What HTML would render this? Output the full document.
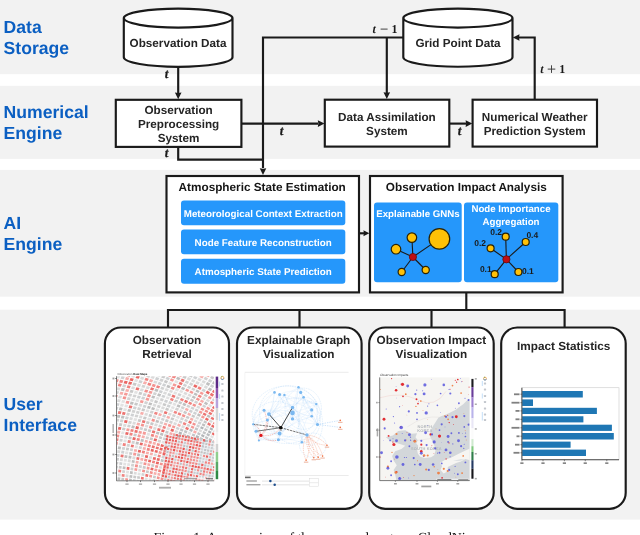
<!DOCTYPE html>
<html><head><meta charset="utf-8"><title>CloudNine overview</title>
<style>
html,body{margin:0;padding:0;background:#fff;}
body{width:640px;height:535px;overflow:hidden;font-family:"Liberation Sans",sans-serif;}
svg{display:block;font-family:"Liberation Sans",sans-serif;text-rendering:geometricPrecision;will-change:transform;opacity:0.999;}
</style></head><body>
<svg width="640" height="535" viewBox="0 0 640 535">
<rect x="0" y="0" width="640" height="535" fill="#ffffff"/>
<rect x="0" y="0" width="640" height="74.2" fill="#f2f2f2"/>
<rect x="0" y="85.8" width="640" height="73.1" fill="#f2f2f2"/>
<rect x="0" y="169.9" width="640" height="126.8" fill="#f2f2f2"/>
<rect x="0" y="309.7" width="640" height="209.9" fill="#f2f2f2"/>
<text x="3.6" y="32.8" font-size="17.6" font-weight="bold" fill="#0b5fc2">Data</text>
<text x="3.6" y="54.1" font-size="17.6" font-weight="bold" fill="#0b5fc2">Storage</text>
<text x="3.6" y="118.3" font-size="17.6" font-weight="bold" fill="#0b5fc2">Numerical</text>
<text x="3.6" y="139.2" font-size="17.6" font-weight="bold" fill="#0b5fc2">Engine</text>
<text x="3.6" y="228.8" font-size="17.6" font-weight="bold" fill="#0b5fc2">AI</text>
<text x="3.6" y="250.2" font-size="17.6" font-weight="bold" fill="#0b5fc2">Engine</text>
<text x="3.6" y="409.9" font-size="17.6" font-weight="bold" fill="#0b5fc2">User</text>
<text x="3.6" y="431.3" font-size="17.6" font-weight="bold" fill="#0b5fc2">Interface</text>
<path d="M178.2 66 L178.2 93" fill="none" stroke="#1a1a1a" stroke-width="2.15" stroke-linejoin="miter"/>
<polygon points="178.20,99.20 174.90,92.50 178.20,93.00 181.50,92.50" fill="#1a1a1a"/>
<path d="M241 123.6 L318 123.6" fill="none" stroke="#1a1a1a" stroke-width="2.15" stroke-linejoin="miter"/>
<polygon points="324.50,123.60 317.80,120.30 318.30,123.60 317.80,126.90" fill="#1a1a1a"/>
<path d="M178.2 147 L178.2 159.6 L263 159.6" fill="none" stroke="#1a1a1a" stroke-width="2.15" stroke-linejoin="miter"/>
<path d="M403 37.5 L263 37.5 L263 168" fill="none" stroke="#1a1a1a" stroke-width="2.15" stroke-linejoin="miter"/>
<polygon points="263.00,175.00 259.70,168.30 263.00,168.80 266.30,168.30" fill="#1a1a1a"/>
<path d="M386.8 37.5 L386.8 93" fill="none" stroke="#1a1a1a" stroke-width="2.15" stroke-linejoin="miter"/>
<polygon points="386.80,99.00 383.50,92.30 386.80,92.80 390.10,92.30" fill="#1a1a1a"/>
<path d="M449.5 123.6 L466 123.6" fill="none" stroke="#1a1a1a" stroke-width="2.15" stroke-linejoin="miter"/>
<polygon points="472.30,123.60 465.60,120.30 466.10,123.60 465.60,126.90" fill="#1a1a1a"/>
<path d="M534.7 99.5 L534.7 37.5 L519 37.5" fill="none" stroke="#1a1a1a" stroke-width="2.15" stroke-linejoin="miter"/>
<polygon points="512.80,37.50 519.50,34.20 519.00,37.50 519.50,40.80" fill="#1a1a1a"/>
<path d="M359 233.3 L364 233.3" fill="none" stroke="#1a1a1a" stroke-width="2.15" stroke-linejoin="miter"/>
<polygon points="369.40,233.30 363.40,230.30 363.90,233.30 363.40,236.30" fill="#1a1a1a"/>
<path d="M466.3 292 L466.3 310" fill="none" stroke="#1a1a1a" stroke-width="2.15" stroke-linejoin="miter"/>
<path d="M168 327 L168 310 L564.6 310 L564.6 327" fill="none" stroke="#1a1a1a" stroke-width="2.15" stroke-linejoin="miter"/>
<path d="M299.5 310 L299.5 327" fill="none" stroke="#1a1a1a" stroke-width="2.15" stroke-linejoin="miter"/>
<path d="M431.5 310 L431.5 327" fill="none" stroke="#1a1a1a" stroke-width="2.15" stroke-linejoin="miter"/>
<path d="M123.8 18.1 L123.8 57.3 A54.35 9.5 0 0 0 232.5 57.3 L232.5 18.1 A54.35 9.5 0 0 0 123.8 18.1 A54.35 9.5 0 0 0 232.5 18.1" fill="#fff" stroke="#1a1a1a" stroke-width="2.15"/>
<text x="178" y="47.1" font-size="11.7" font-weight="bold" fill="#252525" text-anchor="middle">Observation Data</text>
<path d="M403.3 18.1 L403.3 57.3 A54.599999999999994 9.5 0 0 0 512.5 57.3 L512.5 18.1 A54.599999999999994 9.5 0 0 0 403.3 18.1 A54.599999999999994 9.5 0 0 0 512.5 18.1" fill="#fff" stroke="#1a1a1a" stroke-width="2.15"/>
<text x="458" y="47.1" font-size="11.7" font-weight="bold" fill="#252525" text-anchor="middle">Grid Point Data</text>
<rect x="115.8" y="99.8" width="125.60" height="47.10" rx="0" fill="#fff" stroke="#1a1a1a" stroke-width="2.15"/>
<text x="178.6" y="113.5" font-size="11.7" font-weight="bold" fill="#252525" text-anchor="middle">Observation</text>
<text x="178.6" y="127.6" font-size="11.7" font-weight="bold" fill="#252525" text-anchor="middle">Preprocessing</text>
<text x="178.6" y="141.7" font-size="11.7" font-weight="bold" fill="#252525" text-anchor="middle">System</text>
<rect x="324.8" y="99.7" width="124.50" height="46.90" rx="0" fill="#fff" stroke="#1a1a1a" stroke-width="2.15"/>
<text x="386.9" y="120.5" font-size="11.7" font-weight="bold" fill="#252525" text-anchor="middle">Data Assimilation</text>
<text x="386.9" y="135.2" font-size="11.7" font-weight="bold" fill="#252525" text-anchor="middle">System</text>
<rect x="472.6" y="99.7" width="124.40" height="46.90" rx="0" fill="#fff" stroke="#1a1a1a" stroke-width="2.15"/>
<text x="534.7" y="120.5" font-size="11.7" font-weight="bold" fill="#252525" text-anchor="middle">Numerical Weather</text>
<text x="534.7" y="135.2" font-size="11.7" font-weight="bold" fill="#252525" text-anchor="middle">Prediction System</text>
<text x="166.6" y="78" font-family="Liberation Serif, serif" font-style="italic" font-weight="bold" font-size="13.2" fill="#1a1a1a" stroke="#1a1a1a" stroke-width="0.25" text-anchor="middle">t</text>
<text x="166.6" y="157.4" font-family="Liberation Serif, serif" font-style="italic" font-weight="bold" font-size="13.2" fill="#1a1a1a" stroke="#1a1a1a" stroke-width="0.25" text-anchor="middle">t</text>
<text x="281.5" y="135.4" font-family="Liberation Serif, serif" font-style="italic" font-weight="bold" font-size="13.2" fill="#1a1a1a" stroke="#1a1a1a" stroke-width="0.25" text-anchor="middle">t</text>
<text x="459.6" y="135.4" font-family="Liberation Serif, serif" font-style="italic" font-weight="bold" font-size="13.2" fill="#1a1a1a" stroke="#1a1a1a" stroke-width="0.25" text-anchor="middle">t</text>
<text x="372.6" y="32.7" font-family="Liberation Serif, serif" font-style="italic" font-weight="bold" font-size="12.0" fill="#1a1a1a">t</text>
<path d="M380.6 29.1H387.6" stroke="#3a3a3a" stroke-width="0.95" fill="none"/>
<text x="391.6" y="32.7" font-family="Liberation Serif, serif" font-weight="bold" font-size="12.0" fill="#1a1a1a">1</text>
<text x="540.2" y="73" font-family="Liberation Serif, serif" font-style="italic" font-weight="bold" font-size="12.0" fill="#1a1a1a">t</text>
<path d="M547.7 69.1H555.3M551.5 65.30000000000004V72.89999999999995" stroke="#3a3a3a" stroke-width="0.95" fill="none"/>
<text x="559.2" y="73" font-family="Liberation Serif, serif" font-weight="bold" font-size="12.0" fill="#1a1a1a">1</text>
<rect x="166.5" y="176.0" width="192.50" height="116.40" rx="0" fill="#fff" stroke="#1a1a1a" stroke-width="2.15"/>
<text x="262.2" y="191.4" font-size="11.75" font-weight="bold" fill="#151515" text-anchor="middle">Atmospheric State Estimation</text>
<rect x="181" y="200.5" width="164.3" height="24.8" rx="3" fill="#2597fb"/>
<text x="263.2" y="217.20000000000002" font-size="9.8" font-weight="bold" fill="#fff" text-anchor="middle">Meteorological Context Extraction</text>
<rect x="181" y="229.4" width="164.3" height="24.8" rx="3" fill="#2597fb"/>
<text x="263.2" y="245.70000000000002" font-size="9.8" font-weight="bold" fill="#fff" text-anchor="middle">Node Feature Reconstruction</text>
<rect x="181" y="258.7" width="164.3" height="25.0" rx="3" fill="#2597fb"/>
<text x="263.2" y="274.7" font-size="9.8" font-weight="bold" fill="#fff" text-anchor="middle">Atmospheric State Prediction</text>
<rect x="370" y="176.0" width="192.60" height="116.40" rx="0" fill="#fff" stroke="#1a1a1a" stroke-width="2.15"/>
<text x="466.3" y="191.4" font-size="11.75" font-weight="bold" fill="#151515" text-anchor="middle">Observation Impact Analysis</text>
<rect x="374" y="202.4" width="87.7" height="79.8" rx="3" fill="#2597fb"/>
<rect x="464" y="202.4" width="94.3" height="79.8" rx="3" fill="#2597fb"/>
<text x="418" y="217" font-size="9.7" font-weight="bold" fill="#fff" text-anchor="middle">Explainable GNNs</text>
<text x="511" y="212.0" font-size="9.7" font-weight="bold" fill="#fff" text-anchor="middle">Node Importance</text>
<text x="511" y="224.6" font-size="9.7" font-weight="bold" fill="#fff" text-anchor="middle">Aggregation</text>
<line x1="412.9" y1="257" x2="439.4" y2="238.9" stroke="#1a1a1a" stroke-width="1.1"/>
<line x1="412.9" y1="257" x2="411.9" y2="237.6" stroke="#1a1a1a" stroke-width="1.1"/>
<line x1="412.9" y1="257" x2="396" y2="249.2" stroke="#1a1a1a" stroke-width="1.1"/>
<line x1="412.9" y1="257" x2="401.7" y2="272" stroke="#1a1a1a" stroke-width="1.1"/>
<line x1="412.9" y1="257" x2="425.7" y2="270" stroke="#1a1a1a" stroke-width="1.1"/>
<circle cx="439.4" cy="238.9" r="10.3" fill="#ffc107" stroke="#2a2205" stroke-width="1.2"/>
<circle cx="411.9" cy="237.6" r="4.8" fill="#ffc107" stroke="#2a2205" stroke-width="1.2"/>
<circle cx="396" cy="249.2" r="4.8" fill="#ffc107" stroke="#2a2205" stroke-width="1.2"/>
<circle cx="401.7" cy="272" r="3.6" fill="#ffc107" stroke="#2a2205" stroke-width="1.2"/>
<circle cx="425.7" cy="270" r="3.6" fill="#ffc107" stroke="#2a2205" stroke-width="1.2"/>
<circle cx="412.9" cy="257" r="3.6" fill="#c00e14" stroke="#6a0a0d" stroke-width="0.8"/>
<line x1="506.4" y1="259.3" x2="505.7" y2="236.7" stroke="#1a1a1a" stroke-width="1.1"/>
<line x1="506.4" y1="259.3" x2="525.7" y2="242" stroke="#1a1a1a" stroke-width="1.1"/>
<line x1="506.4" y1="259.3" x2="490.6" y2="248.3" stroke="#1a1a1a" stroke-width="1.1"/>
<line x1="506.4" y1="259.3" x2="494.7" y2="274.2" stroke="#1a1a1a" stroke-width="1.1"/>
<line x1="506.4" y1="259.3" x2="518.4" y2="272" stroke="#1a1a1a" stroke-width="1.1"/>
<circle cx="505.7" cy="236.7" r="3.5" fill="#ffc107" stroke="#2a2205" stroke-width="1.2"/>
<circle cx="525.7" cy="242" r="3.5" fill="#ffc107" stroke="#2a2205" stroke-width="1.2"/>
<circle cx="490.6" cy="248.3" r="3.5" fill="#ffc107" stroke="#2a2205" stroke-width="1.2"/>
<circle cx="494.7" cy="274.2" r="3.5" fill="#ffc107" stroke="#2a2205" stroke-width="1.2"/>
<circle cx="518.4" cy="272" r="3.5" fill="#ffc107" stroke="#2a2205" stroke-width="1.2"/>
<circle cx="506.4" cy="259.3" r="3.6" fill="#c00e14" stroke="#6a0a0d" stroke-width="0.8"/>
<text x="496.1" y="234.5" font-size="8.5" font-weight="bold" fill="#1a1a1a" text-anchor="middle">0.2</text>
<text x="532.3" y="237.5" font-size="8.5" font-weight="bold" fill="#1a1a1a" text-anchor="middle">0.4</text>
<text x="480.2" y="245.5" font-size="8.5" font-weight="bold" fill="#1a1a1a" text-anchor="middle">0.2</text>
<text x="485.8" y="272.3" font-size="8.5" font-weight="bold" fill="#1a1a1a" text-anchor="middle">0.1</text>
<text x="527.9" y="274" font-size="8.5" font-weight="bold" fill="#1a1a1a" text-anchor="middle">0.1</text>
<rect x="104.9" y="327.5" width="124.10" height="181.30" rx="16" fill="#fff" stroke="#1a1a1a" stroke-width="2.15"/>
<rect x="237" y="327.5" width="124.60" height="181.30" rx="16" fill="#fff" stroke="#1a1a1a" stroke-width="2.15"/>
<rect x="369.2" y="327.5" width="124.50" height="181.30" rx="16" fill="#fff" stroke="#1a1a1a" stroke-width="2.15"/>
<rect x="501.2" y="327.5" width="124.50" height="181.30" rx="16" fill="#fff" stroke="#1a1a1a" stroke-width="2.15"/>
<text x="167" y="343.7" font-size="11.75" font-weight="bold" fill="#252525" text-anchor="middle">Observation</text>
<text x="167" y="357.9" font-size="11.75" font-weight="bold" fill="#252525" text-anchor="middle">Retrieval</text>
<text x="298.7" y="343.7" font-size="11.75" font-weight="bold" fill="#252525" text-anchor="middle">Explainable Graph</text>
<text x="298.7" y="357.9" font-size="11.75" font-weight="bold" fill="#252525" text-anchor="middle">Visualization</text>
<text x="431.4" y="343.7" font-size="11.75" font-weight="bold" fill="#252525" text-anchor="middle">Observation Impact</text>
<text x="431.4" y="357.9" font-size="11.75" font-weight="bold" fill="#252525" text-anchor="middle">Visualization</text>
<text x="563.7" y="350.4" font-size="11.75" font-weight="bold" fill="#252525" text-anchor="middle">Impact Statistics</text>
<g id="t1">
<clipPath id="c1"><rect x="116.8" y="376.2" width="97.4" height="104.3"/></clipPath>
<rect x="116.8" y="376.2" width="97.4" height="104.3" fill="#fcfcfc"/>
<g clip-path="url(#c1)">
<polygon points="165.0,433.0 215.2,441.4 215.2,481.5 162.6,481.5" fill="#f1f3f6"/>
<path d="M112.2 377.3L114.9 377.7L115.9 375.1L113.2 374.6ZM120.7 390.6L123.9 391.2L124.9 388.6L121.7 388.0ZM116.6 417.5L119.6 418.0L120.4 415.3L117.4 414.8ZM118.8 410.0L121.8 410.5L122.7 407.9L119.6 407.3ZM113.0 452.3L115.9 452.7L116.4 450.0L113.5 449.6ZM120.8 418.2L123.8 418.7L124.6 416.1L121.6 415.5ZM113.3 483.5L116.0 483.7L116.2 481.0L113.5 480.8ZM113.6 479.7L116.3 479.9L116.6 477.2L113.8 476.9ZM114.8 468.1L117.5 468.4L117.9 465.7L115.1 465.4ZM117.7 449.0L120.6 449.4L121.1 446.7L118.3 446.3ZM127.3 411.5L130.3 412.1L131.2 409.5L128.2 408.9ZM129.8 404.2L132.9 404.8L133.8 402.3L130.7 401.6ZM117.4 480.0L120.1 480.3L120.4 477.6L117.7 477.3ZM122.6 469.0L125.3 469.3L125.7 466.7L122.9 466.3ZM124.3 457.7L127.1 458.1L127.6 455.4L124.8 455.0ZM131.2 427.9L134.1 428.5L134.9 425.9L132.0 425.3ZM128.3 458.3L131.1 458.7L131.6 456.1L128.8 455.6ZM128.9 481.3L131.6 481.6L131.9 479.0L129.2 478.6ZM129.3 477.5L132.1 477.9L132.4 475.3L129.7 474.9ZM129.8 473.8L132.6 474.2L132.9 471.5L130.2 471.1ZM131.6 462.6L134.4 463.1L134.8 460.5L132.0 460.0ZM135.5 444.2L138.3 444.7L139.0 442.2L136.1 441.6ZM146.9 408.3L149.9 409.1L150.9 406.6L147.9 405.8ZM148.3 404.8L151.3 405.6L152.3 403.2L149.3 402.3ZM151.2 397.8L154.2 398.7L155.3 396.3L152.3 395.4ZM154.3 391.0L157.4 391.9L158.5 389.5L155.5 388.6ZM136.9 455.9L139.7 456.5L140.3 453.9L137.5 453.3ZM140.4 441.4L143.3 442.0L144.0 439.5L141.1 438.8ZM151.1 409.5L154.1 410.3L155.1 407.9L152.1 407.0ZM157.0 395.7L160.1 396.7L161.2 394.3L158.2 393.3ZM166.3 387.2L169.4 388.3L170.6 386.0L167.5 384.8ZM173.6 374.1L176.7 375.3L178.1 372.9L175.0 371.7ZM140.3 482.9L143.0 483.4L143.4 480.8L140.7 480.3ZM155.4 422.3L158.3 423.1L159.2 420.7L156.3 419.8ZM176.0 379.1L179.1 380.3L180.5 378.0L177.4 376.7ZM155.8 433.8L158.6 434.7L159.5 432.2L156.6 431.4ZM159.8 435.0L162.7 435.9L163.5 433.5L160.7 432.6ZM180.9 388.9L183.9 390.2L185.2 388.0L182.2 386.7ZM188.7 376.2L191.7 377.5L193.2 375.2L190.1 373.8ZM176.5 406.5L179.5 407.7L180.6 405.4L177.7 404.2ZM160.5 461.4L163.2 462.2L163.9 459.7L161.1 458.9ZM182.3 405.0L185.2 406.3L186.4 404.1L183.5 402.8ZM191.7 397.6L194.6 399.0L195.9 396.9L193.0 395.5ZM193.5 394.6L196.4 396.0L197.8 393.9L194.8 392.5ZM195.4 391.6L198.3 393.0L199.7 391.0L196.7 389.5ZM205.7 384.3L208.7 385.9L210.2 383.6L207.2 382.1ZM212.1 374.8L215.1 376.4L216.6 374.2L213.6 372.5ZM207.7 389.7L210.7 391.3L212.2 389.1L209.3 387.4ZM212.0 383.4L215.0 385.0L216.6 382.8L213.6 381.1ZM196.9 415.4L199.8 416.8L201.0 414.7L198.1 413.3ZM203.9 403.7L206.8 405.2L208.1 403.2L205.3 401.6ZM201.6 425.3L204.4 426.7L205.5 424.6L202.7 423.2ZM206.6 416.5L209.4 418.0L210.6 416.0L207.8 414.5Z" fill="#bfbfbf"/>
<path d="M111.9 389.2L115.1 389.6L116.0 387.0L112.9 386.5ZM113.2 385.4L116.4 385.9L117.4 383.3L114.2 382.7ZM114.6 381.7L117.8 382.2L118.8 379.6L115.6 379.0ZM122.5 398.8L125.5 399.4L126.5 396.8L123.4 396.2ZM116.0 437.1L118.9 437.5L119.5 434.8L116.6 434.4ZM144.1 391.9L147.2 392.8L148.3 390.3L145.2 389.5ZM146.9 396.6L150.0 397.5L151.0 395.0L148.0 394.1ZM151.6 386.2L154.7 387.2L155.9 384.8L152.8 383.8ZM140.6 426.0L143.5 426.7L144.3 424.2L141.4 423.5ZM134.8 467.0L137.6 467.4L138.1 464.8L135.3 464.3ZM151.3 421.1L154.2 421.9L155.1 419.5L152.2 418.6ZM142.0 472.0L144.7 472.5L145.2 470.0L142.4 469.4ZM143.3 464.8L146.1 465.3L146.6 462.8L143.8 462.2ZM144.0 461.1L146.8 461.7L147.4 459.2L144.6 458.6ZM170.6 388.7L173.6 389.9L174.9 387.6L171.8 386.4ZM149.7 473.6L152.4 474.2L152.9 471.7L150.1 471.0ZM156.5 445.4L159.3 446.2L160.1 443.7L157.2 442.9ZM154.9 467.4L157.7 468.0L158.3 465.6L155.5 464.9ZM156.7 478.8L159.3 479.5L159.8 477.0L157.1 476.3ZM159.6 464.9L162.4 465.6L163.0 463.2L160.2 462.4ZM160.4 479.7L163.1 480.4L163.6 478.0L160.9 477.3ZM161.9 472.8L164.6 473.5L165.1 471.1L162.4 470.4ZM181.6 416.2L184.5 417.4L185.6 415.2L182.7 414.0ZM192.2 405.6L195.1 406.9L196.4 404.8L193.5 403.4ZM195.8 399.6L198.7 401.0L200.0 398.9L197.1 397.4ZM198.1 404.5L201.0 406.0L202.2 403.9L199.4 402.4ZM192.1 424.5L194.9 425.8L196.0 423.7L193.2 422.4ZM200.3 409.5L203.2 411.0L204.5 408.9L201.6 407.4ZM204.4 411.6L207.2 413.1L208.4 411.0L205.6 409.5Z" fill="#f3928f"/>
<path d="M116.1 377.9L119.2 378.5L120.3 375.9L117.1 375.3ZM114.6 425.1L117.5 425.5L118.2 422.8L115.3 422.4ZM120.0 406.3L123.0 406.8L123.9 404.2L120.8 403.6ZM121.2 402.5L124.3 403.1L125.2 400.5L122.1 399.9ZM123.1 410.7L126.1 411.3L127.0 408.7L123.9 408.1ZM124.3 407.0L127.3 407.6L128.2 405.0L125.1 404.4ZM134.0 381.6L137.1 382.3L138.2 379.8L135.1 379.0ZM137.1 374.4L140.3 375.2L141.5 372.8L138.3 371.9ZM118.5 445.2L121.3 445.6L121.9 442.9L119.0 442.5ZM121.0 433.9L123.9 434.3L124.6 431.7L121.7 431.2ZM133.9 393.3L137.0 394.0L138.0 391.5L134.9 390.8ZM141.6 375.6L144.8 376.4L146.0 374.0L142.8 373.1ZM123.3 442.0L126.2 442.5L126.8 439.8L123.9 439.4ZM135.4 401.5L138.5 402.2L139.5 399.7L136.4 399.0ZM123.1 465.2L125.9 465.6L126.3 462.9L123.5 462.5ZM123.7 461.4L126.5 461.8L127.0 459.2L124.1 458.7ZM125.0 453.9L127.9 454.3L128.4 451.7L125.5 451.2ZM133.4 420.6L136.4 421.2L137.2 418.6L134.2 418.0ZM126.0 473.2L128.7 473.6L129.1 471.0L126.3 470.6ZM127.0 465.7L129.8 466.1L130.2 463.5L127.5 463.1ZM156.7 376.1L159.8 377.1L161.1 374.7L158.0 373.7ZM134.6 447.8L137.4 448.4L138.1 445.8L135.2 445.2ZM145.5 411.8L148.5 412.6L149.5 410.1L146.5 409.3ZM147.1 420.0L150.1 420.7L151.0 418.3L148.0 417.4ZM155.5 399.1L158.5 400.1L159.6 397.7L156.6 396.7ZM137.5 475.0L140.3 475.4L140.7 472.9L137.9 472.4ZM146.5 435.2L149.4 435.9L150.2 433.4L147.3 432.6ZM155.3 410.7L158.3 411.6L159.3 409.2L156.3 408.3ZM158.2 403.9L161.2 404.8L162.3 402.5L159.3 401.5ZM168.1 383.9L171.1 385.0L172.4 382.7L169.3 381.6ZM165.6 398.6L168.6 399.6L169.7 397.3L166.7 396.2ZM174.2 382.3L177.2 383.5L178.6 381.3L175.5 380.0ZM144.6 480.0L147.3 480.5L147.8 477.9L145.0 477.4ZM173.1 393.6L176.1 394.8L177.4 392.5L174.4 391.3ZM174.9 390.4L177.9 391.6L179.2 389.3L176.1 388.1ZM148.5 480.7L151.1 481.3L151.6 478.7L148.9 478.2ZM169.3 411.5L172.2 412.5L173.3 410.2L170.3 409.1ZM170.8 408.2L173.7 409.3L174.9 407.0L171.9 405.9ZM172.4 404.9L175.3 406.0L176.5 403.8L173.5 402.6ZM179.1 392.1L182.1 393.3L183.4 391.1L180.4 389.8ZM161.5 443.1L164.3 443.9L165.2 441.5L162.3 440.6ZM166.3 429.5L169.2 430.5L170.1 428.1L167.3 427.1ZM181.6 397.0L184.5 398.3L185.8 396.1L182.8 394.8ZM195.0 374.9L198.1 376.3L199.6 374.0L196.5 372.5ZM174.5 421.0L177.4 422.1L178.4 419.9L175.5 418.7ZM176.0 417.8L178.9 418.9L179.9 416.6L177.0 415.5ZM179.1 411.4L182.0 412.5L183.1 410.3L180.2 409.1ZM159.8 483.2L162.5 483.9L162.9 481.4L160.3 480.7ZM199.4 385.4L202.4 386.9L203.9 384.6L200.9 383.1ZM187.7 433.8L190.5 435.0L191.5 432.8L188.7 431.6ZM208.0 405.8L210.8 407.4L212.1 405.4L209.3 403.8ZM213.8 405.2L216.6 406.9L218.0 404.9L215.2 403.3ZM214.4 420.9L217.2 422.4L218.4 420.5L215.7 418.9ZM210.1 437.1L212.8 438.6L213.9 436.6L211.2 435.1ZM214.9 428.6L217.6 430.2L218.8 428.3L216.1 426.7Z" fill="#e2e2e2"/>
<path d="M117.5 374.2L120.7 374.8L121.8 372.2L118.6 371.6ZM123.8 395.1L126.9 395.7L127.9 393.2L124.7 392.5ZM125.5 403.3L128.6 403.9L129.5 401.3L126.4 400.7ZM126.1 430.8L129.0 431.3L129.7 428.7L126.8 428.2ZM139.7 402.5L142.8 403.3L143.8 400.8L140.7 400.0ZM125.1 480.8L127.8 481.1L128.1 478.4L125.4 478.1ZM145.4 400.1L148.5 400.9L149.5 398.5L146.5 397.6ZM148.4 393.1L151.5 394.0L152.6 391.6L149.5 390.7ZM133.0 455.2L135.8 455.7L136.4 453.1L133.5 452.6ZM137.4 436.9L140.2 437.5L141.0 434.9L138.1 434.3ZM138.4 433.2L141.3 433.9L142.0 431.4L139.1 430.7ZM134.2 470.6L137.0 471.1L137.4 468.5L134.7 468.0ZM142.5 434.2L145.4 434.9L146.1 432.3L143.2 431.6ZM148.8 428.1L151.7 428.9L152.6 426.4L149.6 425.6ZM169.8 380.6L172.9 381.8L174.2 379.5L171.1 378.3ZM148.5 443.3L151.3 444.0L152.1 441.5L149.2 440.7ZM172.4 385.5L175.4 386.7L176.7 384.4L173.6 383.2ZM178.0 375.8L181.1 377.0L182.5 374.7L179.4 373.4ZM146.5 469.2L149.2 469.7L149.7 467.2L147.0 466.6ZM149.0 477.1L151.7 477.7L152.2 475.2L149.5 474.6ZM154.2 470.9L156.9 471.5L157.5 469.1L154.7 468.4ZM158.4 453.4L161.2 454.2L161.9 451.8L159.1 450.9ZM167.7 426.2L170.5 427.2L171.5 424.8L168.6 423.8ZM185.1 390.8L188.1 392.1L189.4 389.9L186.5 388.6ZM171.7 427.6L174.6 428.6L175.5 426.3L172.7 425.2ZM189.3 392.6L192.3 394.0L193.6 391.9L190.7 390.5ZM205.7 375.8L208.7 377.3L210.2 375.1L207.2 373.5ZM199.5 393.6L202.4 395.1L203.8 393.1L200.9 391.6ZM214.2 380.2L217.2 381.9L218.7 379.6L215.7 378.0ZM190.6 427.6L193.4 428.9L194.5 426.7L191.7 425.4ZM198.6 412.5L201.5 413.9L202.7 411.8L199.8 410.4ZM207.7 397.9L210.6 399.5L211.9 397.5L209.1 395.9ZM200.9 417.4L203.7 418.8L204.9 416.8L202.1 415.3ZM206.1 408.7L209.0 410.2L210.3 408.2L207.4 406.6Z" fill="#f59a97"/>
<path d="M112.5 401.1L115.6 401.6L116.5 398.9L113.4 398.4ZM120.6 378.7L123.7 379.3L124.8 376.8L121.6 376.1ZM122.0 375.1L125.3 375.7L126.4 373.1L123.1 372.5ZM114.5 409.3L117.6 409.8L118.4 407.1L115.3 406.6ZM115.7 405.5L118.7 406.0L119.6 403.4L116.5 402.9ZM119.8 421.9L122.7 422.4L123.5 419.8L120.5 419.3ZM113.9 475.8L116.7 476.1L116.9 473.3L114.2 473.1ZM116.4 456.6L119.2 457.0L119.7 454.3L116.9 453.9ZM125.0 418.9L128.0 419.5L128.8 416.9L125.8 416.3ZM138.4 382.6L141.5 383.4L142.7 380.9L139.5 380.1ZM117.1 483.8L119.8 484.1L120.0 481.4L117.3 481.1ZM119.2 464.7L122.0 465.1L122.4 462.4L119.6 462.0ZM121.0 453.3L123.9 453.7L124.4 451.1L121.5 450.6ZM121.8 449.6L124.6 450.0L125.2 447.3L122.3 446.9ZM127.1 427.1L130.0 427.6L130.8 425.0L127.8 424.5ZM130.4 416.0L133.4 416.7L134.2 414.1L131.2 413.4ZM132.8 408.7L135.8 409.4L136.8 406.9L133.7 406.2ZM136.8 397.9L139.9 398.7L140.9 396.2L137.8 395.4ZM141.1 399.0L144.2 399.8L145.2 397.3L142.2 396.5ZM142.6 395.5L145.7 396.3L146.7 393.8L143.6 393.0ZM142.6 407.2L145.6 407.9L146.6 405.5L143.6 404.7ZM154.9 379.4L158.1 380.4L159.3 378.1L156.2 377.0ZM130.4 470.0L133.1 470.5L133.5 467.8L130.8 467.4ZM139.5 429.6L142.4 430.3L143.2 427.8L140.2 427.1ZM157.6 384.2L160.7 385.2L161.9 382.9L158.8 381.8ZM132.7 481.8L135.4 482.2L135.8 479.5L133.0 479.1ZM158.6 392.3L161.7 393.4L162.9 391.0L159.8 390.0ZM162.0 385.7L165.0 386.7L166.3 384.4L163.2 383.3ZM165.5 379.0L168.6 380.2L169.9 377.9L166.8 376.7ZM138.7 467.6L141.5 468.2L142.0 465.6L139.2 465.0ZM161.3 397.1L164.3 398.1L165.5 395.8L162.5 394.7ZM164.0 401.9L167.0 402.9L168.1 400.6L165.1 399.5ZM167.2 395.3L170.2 396.4L171.4 394.1L168.4 392.9ZM160.8 420.1L163.7 421.0L164.7 418.7L161.8 417.7ZM162.2 416.7L165.1 417.7L166.1 415.3L163.2 414.3ZM166.6 406.7L169.6 407.7L170.7 405.4L167.7 404.3ZM184.3 374.3L187.4 375.6L188.8 373.3L185.7 371.9ZM175.7 398.5L178.6 399.6L179.8 397.4L176.9 396.2ZM182.8 385.8L185.8 387.1L187.1 385.0L184.1 383.6ZM162.7 439.7L165.5 440.5L166.3 438.2L163.5 437.2ZM193.0 378.1L196.0 379.5L197.5 377.2L194.4 375.8ZM161.4 458.0L164.1 458.7L164.8 456.3L162.1 455.5ZM185.7 398.8L188.7 400.1L189.9 397.9L187.0 396.6ZM161.1 476.3L163.8 477.0L164.4 474.5L161.6 473.8ZM175.7 429.1L178.6 430.1L179.6 427.9L176.7 426.8ZM178.6 422.6L181.4 423.7L182.5 421.5L179.6 420.3ZM188.8 411.7L191.7 413.0L192.9 410.8L190.0 409.5ZM190.5 408.6L193.4 410.0L194.6 407.8L191.7 406.5ZM201.5 390.7L204.4 392.2L205.9 390.0L203.0 388.4ZM207.8 381.2L210.8 382.7L212.4 380.5L209.4 378.9ZM192.9 413.5L195.8 414.9L197.0 412.8L194.1 411.4ZM194.6 410.5L197.4 411.9L198.7 409.8L195.8 408.4ZM209.9 386.5L212.8 388.1L214.4 385.9L211.4 384.3ZM202.1 406.6L205.0 408.1L206.3 406.0L203.4 404.5ZM196.1 426.4L198.9 427.7L200.0 425.6L197.2 424.2ZM197.6 423.4L200.4 424.7L201.6 422.6L198.8 421.2Z" fill="#cfd1d3"/>
<path d="M113.8 397.4L116.9 397.8L117.8 395.2L114.6 394.7ZM117.7 386.1L120.8 386.7L121.9 384.1L118.7 383.5ZM119.1 382.4L122.3 383.0L123.3 380.4L120.1 379.8ZM126.6 387.8L129.7 388.5L130.7 385.9L127.6 385.2ZM114.4 444.7L117.3 445.0L117.9 442.3L115.0 442.0ZM115.2 440.9L118.1 441.2L118.7 438.6L115.8 438.2ZM118.2 472.3L121.0 472.6L121.3 469.9L118.5 469.6ZM122.5 445.8L125.4 446.2L126.0 443.6L123.1 443.1ZM144.4 380.3L147.6 381.1L148.8 378.7L145.6 377.8ZM121.6 476.6L124.4 476.9L124.7 474.2L121.9 473.9ZM127.4 442.7L130.3 443.2L130.9 440.6L128.0 440.0ZM129.2 435.3L132.1 435.8L132.8 433.2L129.9 432.6ZM130.2 431.6L133.1 432.1L133.8 429.5L130.9 428.9ZM147.2 385.0L150.3 385.9L151.5 383.4L148.4 382.5ZM136.4 440.5L139.3 441.1L140.0 438.6L137.1 437.9ZM155.9 387.6L159.0 388.6L160.2 386.2L157.1 385.2ZM141.7 453.1L144.5 453.7L145.1 451.1L142.3 450.5ZM153.9 414.1L156.9 415.0L157.8 412.6L154.9 411.7ZM171.7 377.4L174.8 378.6L176.2 376.2L173.1 375.0ZM146.6 450.4L149.4 451.0L150.0 448.5L147.2 447.8ZM147.5 446.8L150.3 447.5L151.0 445.0L148.2 444.3ZM150.6 436.2L153.5 437.0L154.3 434.5L151.4 433.7ZM169.8 400.1L172.8 401.2L173.9 398.9L171.0 397.8ZM147.9 484.3L150.6 484.8L151.0 482.3L148.3 481.8ZM151.9 462.9L154.6 463.6L155.2 461.1L152.4 460.4ZM162.3 428.2L165.2 429.1L166.1 426.7L163.2 425.8ZM157.5 456.9L160.3 457.6L160.9 455.2L158.1 454.4ZM173.4 413.0L176.3 414.1L177.4 411.8L174.5 410.7ZM179.8 400.1L182.8 401.4L184.0 399.2L181.1 397.9ZM156.0 482.3L158.7 483.0L159.2 480.5L156.5 479.8ZM158.0 471.8L160.8 472.5L161.3 470.1L158.6 469.3ZM177.5 414.6L180.4 415.7L181.5 413.5L178.6 412.3ZM163.5 465.9L166.2 466.7L166.8 464.3L164.1 463.5ZM188.1 403.7L191.0 405.0L192.3 402.9L189.4 401.5ZM197.3 388.6L200.3 390.1L201.8 387.8L198.8 386.3ZM182.6 424.2L185.4 425.4L186.5 423.2L183.7 422.0ZM197.6 396.6L200.6 398.0L201.9 396.0L199.0 394.5ZM209.8 403.0L212.7 404.6L214.0 402.6L211.2 401.0ZM210.1 410.8L212.9 412.4L214.2 410.4L211.4 408.8ZM212.7 423.7L215.4 425.2L216.6 423.3L213.9 421.7Z" fill="#f08380"/>
<path d="M115.0 393.6L118.1 394.1L119.1 391.5L115.9 390.9ZM112.4 416.9L115.4 417.3L116.1 414.6L113.1 414.2ZM113.4 413.1L116.4 413.5L117.2 410.9L114.2 410.4ZM122.1 386.9L125.3 387.5L126.3 385.0L123.1 384.3ZM112.8 432.7L115.7 433.1L116.3 430.4L113.4 430.0ZM115.6 421.3L118.5 421.7L119.3 419.1L116.3 418.6ZM126.8 399.7L129.9 400.3L130.8 397.7L127.8 397.1ZM128.1 396.0L131.2 396.7L132.2 394.1L129.1 393.4ZM114.3 472.0L117.1 472.2L117.4 469.5L114.6 469.2ZM119.3 441.4L122.2 441.8L122.8 439.2L119.9 438.7ZM126.2 415.2L129.1 415.8L130.0 413.2L127.0 412.6ZM132.5 396.9L135.6 397.6L136.6 395.1L133.5 394.4ZM128.1 423.4L131.1 424.0L131.9 421.4L128.9 420.8ZM131.6 412.4L134.6 413.0L135.5 410.5L132.4 409.8ZM141.3 387.3L144.4 388.1L145.5 385.6L142.4 384.8ZM122.1 472.8L124.8 473.1L125.2 470.4L122.4 470.1ZM126.6 446.4L129.4 446.9L130.0 444.3L127.1 443.8ZM134.6 416.9L137.6 417.6L138.4 415.0L135.4 414.4ZM135.8 413.3L138.8 414.0L139.7 411.5L136.7 410.7ZM137.1 409.7L140.1 410.4L141.0 407.9L138.0 407.1ZM129.8 450.8L132.6 451.3L133.2 448.7L130.3 448.2ZM131.4 443.4L134.3 443.9L134.9 441.3L132.1 440.8ZM144.0 403.6L147.0 404.4L148.1 402.0L145.0 401.1ZM130.9 466.3L133.7 466.8L134.2 464.1L131.4 463.7ZM152.7 394.4L155.8 395.3L156.9 392.9L153.9 392.0ZM159.3 380.9L162.4 381.9L163.7 379.6L160.6 378.5ZM162.9 374.2L166.0 375.3L167.4 372.9L164.2 371.8ZM138.6 448.6L141.4 449.2L142.1 446.7L139.2 446.0ZM149.7 412.9L152.7 413.8L153.7 411.3L150.7 410.5ZM160.3 389.0L163.3 390.0L164.5 387.7L161.5 386.6ZM145.5 438.7L148.3 439.4L149.1 436.9L146.2 436.2ZM156.7 407.3L159.7 408.2L160.8 405.8L157.8 404.8ZM159.7 400.5L162.7 401.5L163.9 399.1L160.8 398.1ZM141.4 475.6L144.1 476.1L144.5 473.6L141.8 473.1ZM158.2 426.9L161.1 427.8L162.0 425.4L159.1 424.5ZM159.5 423.5L162.4 424.4L163.3 422.0L160.4 421.1ZM168.2 403.4L171.2 404.5L172.3 402.2L169.3 401.0ZM157.5 441.9L160.4 442.7L161.2 440.3L158.3 439.4ZM177.4 395.3L180.3 396.5L181.6 394.2L178.6 393.0ZM184.7 382.7L187.7 384.0L189.1 381.7L186.1 380.4ZM152.3 481.5L154.9 482.1L155.4 479.6L152.7 479.0ZM163.8 436.3L166.7 437.2L167.6 434.8L164.7 433.9ZM169.0 422.8L171.9 423.9L172.9 421.5L170.0 420.5ZM171.9 416.3L174.8 417.3L175.9 415.0L172.9 413.9ZM174.9 409.7L177.9 410.9L179.0 408.6L176.1 407.4ZM187.0 387.7L190.0 389.0L191.3 386.9L188.3 385.5ZM188.9 384.6L191.9 386.0L193.4 383.7L190.4 382.3ZM180.7 408.2L183.6 409.4L184.8 407.2L181.8 405.9ZM191.2 389.6L194.2 391.0L195.5 388.9L192.6 387.5ZM180.0 419.4L182.9 420.6L184.0 418.3L181.1 417.1ZM186.4 406.8L189.3 408.1L190.5 405.9L187.6 404.6ZM203.6 379.0L206.6 380.5L208.1 378.3L205.1 376.7ZM184.1 421.0L186.9 422.3L188.0 420.1L185.2 418.8ZM194.0 402.6L196.9 404.0L198.2 401.8L195.3 400.4ZM182.3 435.4L185.1 436.5L186.1 434.3L183.3 433.1ZM186.6 425.9L189.4 427.1L190.5 424.9L187.7 423.7ZM199.3 420.4L202.1 421.8L203.2 419.7L200.4 418.3ZM211.7 400.2L214.6 401.8L216.0 399.9L213.1 398.2Z" fill="#d2d2d2"/>
<path d="M116.3 389.9L119.5 390.4L120.4 387.8L117.3 387.2ZM116.9 401.8L119.9 402.3L120.8 399.7L117.8 399.1ZM118.1 398.1L121.2 398.6L122.1 396.0L119.0 395.4ZM131.1 376.9L134.2 377.7L135.4 375.2L132.2 374.4ZM113.7 448.5L116.6 448.9L117.1 446.2L114.2 445.8ZM131.0 388.7L134.1 389.4L135.1 386.9L132.0 386.2ZM117.0 452.8L119.9 453.2L120.4 450.5L117.5 450.1ZM120.1 437.6L123.0 438.1L123.6 435.4L120.7 435.0ZM122.9 426.4L125.9 426.9L126.6 424.2L123.6 423.7ZM131.1 400.6L134.2 401.2L135.2 398.7L132.1 398.0ZM136.9 386.2L140.0 386.9L141.1 384.4L137.9 383.6ZM140.0 379.1L143.1 379.9L144.3 377.4L141.1 376.6ZM117.8 476.2L120.5 476.4L120.8 473.7L118.1 473.5ZM119.8 460.9L122.6 461.3L123.0 458.6L120.2 458.2ZM124.2 438.3L127.1 438.8L127.7 436.1L124.8 435.6ZM129.2 419.7L132.2 420.3L133.0 417.7L130.0 417.1ZM139.7 390.8L142.8 391.6L143.9 389.1L140.8 388.3ZM120.9 484.2L123.6 484.4L123.9 481.8L121.1 481.5ZM132.3 424.2L135.2 424.8L136.0 422.3L133.1 421.6ZM138.4 406.1L141.4 406.9L142.4 404.3L139.3 403.6ZM145.6 388.4L148.7 389.3L149.9 386.9L146.8 386.0ZM150.5 378.1L153.7 379.0L154.9 376.6L151.7 375.7ZM152.3 374.7L155.4 375.6L156.7 373.3L153.5 372.3ZM125.5 477.0L128.2 477.4L128.6 474.7L125.8 474.3ZM127.6 462.0L130.4 462.4L130.9 459.8L128.1 459.3ZM138.8 417.9L141.7 418.6L142.6 416.1L139.6 415.3ZM153.2 382.8L156.4 383.8L157.6 381.4L154.4 380.4ZM132.2 458.9L135.0 459.4L135.6 456.8L132.8 456.3ZM144.2 415.3L147.2 416.1L148.1 413.6L145.1 412.8ZM149.7 401.3L152.7 402.2L153.8 399.7L150.8 398.8ZM133.7 474.3L136.4 474.8L136.8 472.2L134.1 471.7ZM144.7 427.0L147.6 427.8L148.5 425.3L145.5 424.5ZM152.5 406.0L155.5 406.9L156.5 404.5L153.5 403.5ZM138.1 471.3L140.8 471.8L141.3 469.2L138.5 468.7ZM139.4 464.0L142.2 464.5L142.7 462.0L139.9 461.4ZM140.9 456.7L143.7 457.3L144.3 454.7L141.5 454.1ZM152.6 417.6L155.5 418.5L156.5 416.0L153.5 415.1ZM162.9 393.8L166.0 394.8L167.1 392.5L164.1 391.4ZM164.6 390.5L167.6 391.5L168.9 389.2L165.8 388.1ZM152.9 429.2L155.8 430.0L156.7 427.6L153.8 426.7ZM154.1 425.7L157.0 426.6L157.9 424.1L155.0 423.3ZM156.7 418.8L159.6 419.7L160.6 417.3L157.7 416.4ZM159.5 412.0L162.4 412.9L163.5 410.6L160.5 409.6ZM160.9 408.6L163.9 409.6L165.0 407.2L162.0 406.2ZM168.9 392.0L171.9 393.1L173.1 390.8L170.1 389.7ZM144.1 483.6L146.8 484.1L147.2 481.5L144.5 481.0ZM148.8 458.4L151.5 459.1L152.2 456.6L149.4 455.9ZM153.6 455.8L156.3 456.6L157.0 454.1L154.2 453.4ZM167.8 414.8L170.7 415.8L171.8 413.5L168.8 412.4ZM186.7 379.4L189.7 380.8L191.2 378.5L188.1 377.1ZM183.3 393.9L186.3 395.2L187.6 393.0L184.6 391.7ZM190.9 381.3L194.0 382.8L195.4 380.5L192.4 379.0ZM158.8 468.3L161.5 469.1L162.1 466.6L159.4 465.9ZM173.1 424.3L176.0 425.4L177.0 423.1L174.1 422.0ZM187.5 395.7L190.5 397.0L191.8 394.9L188.8 393.5ZM195.2 383.3L198.2 384.8L199.7 382.5L196.7 381.0ZM197.3 380.1L200.3 381.6L201.8 379.3L198.7 377.8ZM174.4 432.3L177.2 433.4L178.2 431.1L175.3 430.0ZM201.5 382.2L204.5 383.7L206.0 381.4L203.0 379.9ZM181.1 427.4L184.0 428.5L185.0 426.3L182.2 425.1ZM203.6 387.5L206.5 389.1L208.1 386.8L205.1 385.2ZM196.3 407.5L199.2 408.9L200.4 406.8L197.6 405.4ZM201.7 398.7L204.6 400.2L206.0 398.1L203.1 396.6ZM193.7 421.5L196.5 422.8L197.6 420.7L194.8 419.3ZM195.3 418.5L198.1 419.8L199.3 417.7L196.4 416.3ZM205.8 400.8L208.7 402.3L210.0 400.3L207.1 398.8ZM214.0 388.8L216.9 390.5L218.5 388.2L215.6 386.6ZM198.5 431.3L201.2 432.6L202.3 430.5L199.5 429.1ZM205.5 427.3L208.2 428.7L209.4 426.7L206.6 425.2ZM208.8 421.5L211.6 423.0L212.8 421.0L210.0 419.5ZM212.3 415.9L215.0 417.4L216.3 415.5L213.5 413.9Z" fill="#dbdbdb"/>
<path d="M119.4 394.3L122.5 394.9L123.5 392.3L120.4 391.7ZM125.0 379.6L128.2 380.3L129.3 377.7L126.1 377.0ZM125.1 391.5L128.3 392.1L129.3 389.5L126.1 388.9ZM116.9 433.3L119.8 433.7L120.5 431.0L117.5 430.6ZM142.8 383.8L145.9 384.6L147.1 382.1L144.0 381.3ZM148.9 381.5L152.0 382.4L153.2 380.0L150.0 379.1ZM136.4 425.1L139.4 425.8L140.2 423.2L137.2 422.5ZM140.0 414.3L143.0 415.0L143.9 412.5L140.9 411.7ZM133.8 451.5L136.6 452.0L137.2 449.5L134.3 448.9ZM135.5 463.3L138.3 463.8L138.8 461.2L136.0 460.7ZM141.4 437.8L144.3 438.4L145.0 435.9L142.2 435.2ZM140.1 460.3L142.9 460.9L143.5 458.3L140.7 457.8ZM142.6 449.5L145.4 450.1L146.1 447.6L143.2 446.9ZM143.5 445.9L146.3 446.5L147.0 444.0L144.2 443.3ZM144.5 442.3L147.3 443.0L148.0 440.5L145.2 439.7ZM145.7 454.0L148.5 454.6L149.1 452.1L146.3 451.4ZM158.1 415.4L161.0 416.3L162.0 413.9L159.1 413.0ZM147.2 465.6L149.9 466.2L150.5 463.7L147.7 463.0ZM149.6 454.9L152.4 455.6L153.1 453.1L150.3 452.4ZM152.5 444.3L155.3 445.0L156.1 442.6L153.2 441.8ZM154.6 437.3L157.5 438.1L158.3 435.7L155.4 434.8ZM163.6 424.8L166.5 425.8L167.4 423.4L164.5 422.4ZM166.3 418.1L169.2 419.1L170.3 416.8L167.3 415.7ZM153.5 474.4L156.2 475.1L156.7 472.6L154.0 471.9ZM157.3 475.3L160.0 476.0L160.5 473.5L157.8 472.8ZM169.1 434.2L171.9 435.2L172.8 432.9L170.0 431.9ZM199.3 376.9L202.4 378.4L203.9 376.1L200.8 374.6ZM162.6 469.4L165.4 470.1L166.0 467.7L163.2 466.9ZM177.1 425.8L180.0 426.9L181.0 424.7L178.1 423.5ZM184.8 409.9L187.7 411.2L188.8 409.0L185.9 407.7ZM187.2 414.8L190.1 416.1L191.2 413.9L188.4 412.6ZM189.7 419.7L192.5 420.9L193.6 418.8L190.8 417.5ZM199.9 401.6L202.8 403.1L204.1 401.0L201.2 399.5ZM193.0 432.5L195.8 433.7L196.9 431.6L194.1 430.3ZM212.3 442.0L215.0 443.5L216.1 441.5L213.4 440.0Z" fill="#f7aeab"/>
<path d="M123.6 383.3L126.7 383.9L127.8 381.3L124.6 380.7ZM126.6 376.0L129.8 376.7L130.9 374.1L127.7 373.4ZM128.0 384.2L131.2 384.8L132.2 382.3L129.1 381.6ZM129.5 380.5L132.7 381.2L133.8 378.7L130.6 378.0ZM117.8 429.5L120.7 429.9L121.4 427.3L118.5 426.8ZM135.5 378.0L138.7 378.8L139.9 376.3L136.7 375.5ZM123.9 422.6L126.9 423.2L127.7 420.5L124.7 420.0ZM125.1 434.5L128.0 435.0L128.7 432.4L125.8 431.9ZM132.3 439.7L135.2 440.3L135.9 437.7L133.0 437.1ZM135.3 428.7L138.3 429.4L139.0 426.8L136.1 426.1ZM137.7 452.3L140.6 452.8L141.2 450.3L138.3 449.7ZM139.5 445.0L142.3 445.6L143.0 443.1L140.2 442.4ZM167.3 375.8L170.4 376.9L171.8 374.5L168.7 373.4ZM144.8 457.5L147.6 458.2L148.2 455.6L145.4 455.0ZM148.0 462.0L150.7 462.6L151.3 460.1L148.5 459.5ZM150.5 451.3L153.3 452.0L154.0 449.6L151.2 448.8ZM153.5 440.8L156.4 441.6L157.2 439.1L154.3 438.3ZM176.7 387.2L179.7 388.4L181.0 386.2L177.9 384.9ZM150.3 470.0L153.1 470.6L153.6 468.1L150.9 467.5ZM152.7 459.4L155.5 460.1L156.1 457.6L153.3 456.9ZM154.5 452.3L157.3 453.1L158.0 450.6L155.2 449.9ZM161.0 431.6L163.9 432.5L164.8 430.1L161.9 429.2ZM155.7 463.9L158.5 464.6L159.1 462.1L156.3 461.4ZM156.6 460.4L159.3 461.1L160.0 458.6L157.2 457.9ZM159.4 449.9L162.2 450.8L162.9 448.3L160.1 447.5ZM160.4 446.5L163.3 447.3L164.0 444.9L161.2 444.1ZM164.4 447.7L167.2 448.6L168.0 446.2L165.2 445.3ZM170.4 430.9L173.2 431.9L174.2 429.6L171.3 428.5ZM193.1 386.6L196.1 388.0L197.6 385.7L194.6 384.3ZM205.6 392.8L208.5 394.4L210.0 392.2L207.1 390.6ZM213.7 397.4L216.6 399.0L218.1 396.8L215.3 395.1ZM204.9 419.4L207.7 420.9L208.9 418.9L206.1 417.4ZM211.9 408.0L214.8 409.6L216.1 407.7L213.3 406.0ZM211.0 426.5L213.7 428.0L214.9 426.0L212.2 424.5ZM211.6 434.3L214.3 435.8L215.5 433.8L212.8 432.3Z" fill="#ea6764"/>
<path d="M113.6 428.9L116.6 429.3L117.3 426.6L114.3 426.2ZM112.4 456.2L115.2 456.5L115.7 453.8L112.9 453.5ZM118.8 425.7L121.7 426.2L122.4 423.5L119.5 423.0ZM129.5 392.4L132.6 393.0L133.7 390.5L130.5 389.8ZM132.4 385.1L135.6 385.9L136.7 383.3L133.5 382.6ZM115.3 464.3L118.0 464.6L118.4 461.9L115.6 461.6ZM115.8 460.5L118.6 460.8L119.0 458.1L116.2 457.7ZM121.9 430.1L124.9 430.6L125.6 428.0L122.6 427.4ZM118.7 468.5L121.4 468.8L121.8 466.2L119.0 465.8ZM134.1 405.1L137.1 405.8L138.1 403.3L135.0 402.6ZM138.3 394.4L141.3 395.1L142.4 392.6L139.3 391.8ZM146.1 376.8L149.2 377.7L150.5 375.3L147.3 374.3ZM121.2 480.4L124.0 480.7L124.2 478.0L121.5 477.7ZM125.8 450.2L128.6 450.6L129.2 448.0L126.3 447.5ZM128.3 439.0L131.2 439.5L131.8 436.9L128.9 436.3ZM124.7 484.6L127.4 484.9L127.7 482.2L125.0 481.9ZM129.0 454.5L131.8 455.0L132.4 452.4L129.5 451.9ZM133.3 436.0L136.2 436.6L136.9 434.0L134.0 433.4ZM137.6 421.5L140.5 422.2L141.4 419.6L138.4 418.9ZM141.3 410.7L144.3 411.5L145.2 409.0L142.2 408.2ZM142.9 418.9L145.9 419.6L146.8 417.1L143.8 416.4ZM161.1 377.5L164.2 378.6L165.5 376.3L162.4 375.2ZM133.2 478.1L135.9 478.5L136.3 475.9L133.5 475.4ZM143.6 430.6L146.5 431.3L147.3 428.8L144.4 428.1ZM145.9 423.5L148.8 424.2L149.7 421.8L146.7 421.0ZM148.4 416.4L151.3 417.2L152.3 414.8L149.3 413.9ZM154.0 402.6L157.0 403.5L158.1 401.1L155.0 400.1ZM163.7 382.3L166.8 383.4L168.1 381.1L165.0 380.0ZM136.5 482.3L139.2 482.8L139.6 480.2L136.9 479.7ZM137.0 478.6L139.7 479.1L140.1 476.5L137.4 476.0ZM147.6 431.6L150.5 432.4L151.4 429.9L148.5 429.1ZM150.0 424.6L152.9 425.4L153.8 422.9L150.9 422.1ZM142.6 468.4L145.4 468.9L145.9 466.4L143.1 465.8ZM149.5 439.7L152.4 440.5L153.1 438.0L150.3 437.2ZM162.4 405.2L165.4 406.3L166.5 403.9L163.5 402.9ZM145.8 472.8L148.6 473.3L149.0 470.8L146.3 470.2ZM165.1 410.0L168.1 411.0L169.1 408.7L166.2 407.6ZM182.3 377.6L185.4 378.9L186.8 376.6L183.7 375.2ZM151.1 466.4L153.8 467.1L154.4 464.6L151.6 463.9ZM158.7 438.4L161.5 439.3L162.3 436.9L159.5 436.0ZM164.9 421.4L167.8 422.4L168.8 420.1L165.9 419.1ZM174.0 401.7L177.0 402.8L178.1 400.6L175.2 399.4ZM152.9 478.0L155.6 478.6L156.0 476.1L153.3 475.4ZM165.1 432.9L167.9 433.8L168.8 431.5L166.0 430.5ZM170.4 419.5L173.3 420.6L174.4 418.3L171.5 417.2ZM178.2 403.3L181.1 404.5L182.3 402.3L179.3 401.1ZM163.3 451.1L166.1 451.9L166.9 449.5L164.1 448.7ZM201.4 373.7L204.5 375.2L205.9 372.9L202.9 371.4ZM173.1 435.6L175.9 436.6L176.8 434.3L174.0 433.3ZM183.1 413.0L186.0 414.3L187.2 412.1L184.3 410.8ZM189.9 400.6L192.8 402.0L194.1 399.9L191.1 398.5ZM185.6 417.9L188.5 419.1L189.6 417.0L186.8 415.7ZM210.0 378.0L213.0 379.6L214.5 377.3L211.5 375.7ZM191.3 416.6L194.1 417.9L195.3 415.8L192.4 414.4ZM203.6 395.8L206.5 397.3L207.9 395.3L205.0 393.7ZM203.2 422.4L206.0 423.8L207.2 421.7L204.4 420.3Z" fill="#c9c9c9"/>
<path d="M117.7 413.7L120.7 414.2L121.5 411.6L118.5 411.1ZM121.9 414.5L124.9 415.0L125.7 412.4L122.7 411.8ZM128.5 407.9L131.6 408.5L132.5 405.9L129.4 405.3ZM135.4 389.7L138.5 390.5L139.5 388.0L136.4 387.2ZM120.4 457.1L123.2 457.5L123.7 454.8L120.8 454.4ZM126.5 469.5L129.2 469.9L129.6 467.2L126.9 466.8ZM130.6 447.1L133.4 447.6L134.0 445.0L131.2 444.5ZM134.3 432.4L137.2 433.0L137.9 430.4L135.0 429.8ZM150.0 389.7L153.1 390.6L154.2 388.2L151.1 387.2ZM141.7 422.5L144.7 423.2L145.5 420.7L142.6 419.9ZM136.2 459.6L139.0 460.1L139.5 457.5L136.7 457.0ZM140.8 479.3L143.5 479.8L143.9 477.2L141.2 476.7ZM151.7 432.7L154.6 433.5L155.4 431.0L152.5 430.2ZM145.2 476.4L147.9 476.9L148.4 474.4L145.6 473.8ZM151.5 447.8L154.3 448.5L155.0 446.1L152.2 445.3ZM157.0 430.4L159.8 431.2L160.7 428.8L157.8 427.9ZM163.6 413.4L166.6 414.3L167.6 412.0L164.7 411.0ZM171.4 396.8L174.4 398.0L175.6 395.7L172.6 394.5ZM178.5 384.0L181.5 385.3L182.8 383.1L179.8 381.8ZM180.4 380.9L183.4 382.2L184.8 379.8L181.8 378.5ZM155.5 448.8L158.3 449.6L159.0 447.2L156.2 446.4ZM162.3 454.5L165.1 455.3L165.8 452.9L163.0 452.1ZM184.0 401.9L186.9 403.2L188.2 401.0L185.2 399.7ZM185.1 429.0L188.0 430.2L189.0 428.0L186.2 426.8ZM188.1 422.8L190.9 424.0L192.0 421.8L189.2 420.6ZM209.7 395.1L212.5 396.7L214.1 394.5L211.2 392.8ZM211.9 391.9L214.7 393.6L216.3 391.4L213.4 389.7ZM202.6 414.5L205.4 415.9L206.7 413.9L203.8 412.4ZM208.3 413.7L211.1 415.2L212.4 413.2L209.6 411.7ZM207.1 424.4L209.9 425.9L211.1 423.9L208.3 422.3ZM210.5 418.7L213.3 420.2L214.5 418.2L211.7 416.7ZM214.1 413.1L216.8 414.7L218.1 412.7L215.4 411.1Z" fill="#ec7370"/>
<path d="M177.1 437.1L179.9 438.1L180.8 435.9L178.0 434.8ZM178.4 433.8L181.2 434.9L182.2 432.6L179.3 431.5ZM186.3 437.0L189.1 438.2L190.1 435.9L187.3 434.7ZM195.5 437.3L198.3 438.6L199.3 436.5L196.5 435.1ZM200.0 428.3L202.8 429.6L203.9 427.6L201.1 426.2ZM200.9 436.1L203.6 437.5L204.7 435.4L201.9 434.0ZM203.2 441.0L206.0 442.3L207.0 440.3L204.3 438.9ZM207.8 432.2L210.5 433.7L211.6 431.7L208.9 430.2ZM209.4 429.3L212.1 430.8L213.3 428.8L210.5 427.3ZM213.9 439.2L216.6 440.7L217.7 438.7L215.0 437.2Z" fill="#b2b5b8"/>
<path d="M179.7 430.6L182.6 431.7L183.6 429.5L180.7 428.3ZM183.7 432.2L186.5 433.4L187.5 431.1L184.7 429.9ZM191.6 435.5L194.4 436.8L195.4 434.6L192.6 433.4ZM194.5 429.4L197.3 430.7L198.4 428.6L195.6 427.2ZM197.0 434.3L199.7 435.6L200.8 433.5L198.0 432.1ZM199.4 439.1L202.1 440.4L203.2 438.3L200.4 437.0ZM202.4 433.2L205.1 434.5L206.2 432.5L203.4 431.1ZM203.9 430.2L206.7 431.6L207.8 429.6L205.0 428.1ZM204.7 438.0L207.4 439.4L208.5 437.4L205.8 436.0Z" fill="#c2c4c6"/>
<path d="M189.1 430.7L191.9 431.9L193.0 429.8L190.1 428.5ZM190.2 438.6L193.0 439.9L194.0 437.7L191.2 436.4ZM194.1 440.4L196.9 441.6L197.9 439.5L195.1 438.2ZM206.2 435.1L209.0 436.5L210.1 434.5L207.3 433.1ZM208.5 440.0L211.2 441.4L212.3 439.4L209.6 438.0ZM213.2 431.4L215.9 433.0L217.1 431.0L214.4 429.4Z" fill="#b9bcbf"/>
<path d="M162.7 455.2L164.8 455.6L165.2 453.5L163.1 453.1ZM163.8 449.2L166.0 449.7L166.4 447.5L164.2 447.1ZM165.6 440.3L167.7 440.7L168.1 438.5L166.0 438.1ZM161.6 476.8L163.7 477.2L164.2 475.0L162.0 474.6ZM162.2 473.8L164.3 474.2L164.7 472.0L162.6 471.6ZM163.3 467.8L165.5 468.2L165.9 466.0L163.7 465.6ZM164.5 461.8L166.6 462.2L167.1 460.1L164.9 459.6ZM166.8 449.8L169.0 450.2L169.4 448.1L167.2 447.7ZM166.3 468.4L168.5 468.8L168.9 466.6L166.7 466.2ZM166.9 465.4L169.1 465.8L169.5 463.6L167.3 463.2ZM170.4 447.4L172.6 447.8L173.0 445.7L170.8 445.3ZM171.6 441.4L173.7 441.8L174.1 439.7L172.0 439.3ZM173.4 448.0L175.5 448.4L176.0 446.3L173.8 445.8ZM174.6 442.0L176.7 442.4L177.1 440.3L175.0 439.8ZM175.1 439.0L177.3 439.4L177.7 437.3L175.6 436.9ZM175.7 436.0L177.9 436.4L178.3 434.3L176.1 433.9ZM171.7 472.5L173.9 472.9L174.3 470.8L172.1 470.4ZM173.0 482.1L175.1 482.5L175.6 480.4L173.4 479.9ZM174.1 476.1L176.3 476.5L176.7 474.4L174.6 473.9ZM178.8 452.2L181.0 452.6L181.4 450.4L179.2 450.0ZM181.7 437.2L183.9 437.6L184.3 435.4L182.1 435.0ZM184.1 440.8L186.3 441.2L186.7 439.0L184.5 438.6ZM180.7 474.3L182.9 474.7L183.3 472.5L181.1 472.1ZM184.2 456.3L186.4 456.7L186.8 454.6L184.6 454.2ZM190.1 441.9L192.3 442.3L192.7 440.2L190.5 439.8ZM191.9 448.5L194.1 448.9L194.5 446.8L192.4 446.3ZM189.7 476.0L191.8 476.4L192.3 474.3L190.1 473.9ZM190.9 470.0L193.0 470.4L193.4 468.3L191.3 467.9ZM196.8 455.6L198.9 456.1L199.3 453.9L197.2 453.5ZM198.5 446.7L200.7 447.1L201.1 444.9L198.9 444.5ZM195.1 480.2L197.3 480.6L197.7 478.4L195.5 478.0ZM195.7 477.2L197.8 477.6L198.3 475.4L196.1 475.0ZM202.7 441.3L204.8 441.7L205.2 439.5L203.1 439.1ZM201.0 465.8L203.2 466.2L203.6 464.1L201.4 463.6ZM205.7 457.4L207.9 457.8L208.3 455.7L206.2 455.2ZM206.4 469.9L208.6 470.4L209.0 468.2L206.8 467.8ZM213.0 468.1L215.1 468.5L215.6 466.4L213.4 466.0Z" fill="#ea605d"/>
<path d="M163.2 452.2L165.4 452.7L165.8 450.5L163.7 450.1ZM168.0 443.8L170.1 444.3L170.6 442.1L168.4 441.7ZM168.1 459.4L170.2 459.8L170.6 457.6L168.5 457.2ZM169.2 453.4L171.4 453.8L171.8 451.7L169.7 451.2ZM167.0 480.9L169.1 481.3L169.6 479.2L167.4 478.8ZM169.9 466.0L172.1 466.4L172.5 464.2L170.3 463.8ZM174.6 457.6L176.8 458.0L177.2 455.8L175.1 455.4ZM176.5 464.1L178.6 464.5L179.0 462.4L176.9 462.0ZM181.1 440.2L183.3 440.6L183.7 438.4L181.5 438.0ZM178.3 470.7L180.5 471.1L180.9 469.0L178.7 468.5ZM181.8 452.7L183.9 453.2L184.4 451.0L182.2 450.6ZM181.3 471.3L183.4 471.7L183.9 469.5L181.7 469.1ZM183.0 462.3L185.2 462.7L185.6 460.6L183.5 460.1ZM184.8 453.3L186.9 453.7L187.4 451.6L185.2 451.2ZM187.7 438.3L189.8 438.8L190.3 436.6L188.1 436.2ZM183.1 477.8L185.3 478.3L185.7 476.1L183.5 475.7ZM186.6 459.9L188.8 460.3L189.2 458.1L187.0 457.7ZM189.0 463.5L191.2 463.9L191.6 461.7L189.4 461.3ZM190.2 457.5L192.3 457.9L192.8 455.7L190.6 455.3ZM193.1 442.5L195.3 442.9L195.7 440.8L193.5 440.3ZM193.8 455.1L195.9 455.5L196.3 453.3L194.2 452.9ZM191.5 482.6L193.7 483.0L194.1 480.9L191.9 480.4ZM195.0 464.6L197.2 465.0L197.6 462.9L195.4 462.5ZM196.2 458.6L198.3 459.1L198.8 456.9L196.6 456.5ZM197.9 449.7L200.1 450.1L200.5 447.9L198.3 447.5ZM199.3 474.8L201.4 475.2L201.8 473.0L199.7 472.6ZM201.1 481.3L203.2 481.8L203.7 479.6L201.5 479.2ZM202.2 475.4L204.4 475.8L204.8 473.6L202.7 473.2ZM204.6 463.4L206.7 463.8L207.2 461.6L205.0 461.2ZM208.7 442.4L210.8 442.8L211.2 440.7L209.1 440.3ZM204.7 478.9L206.8 479.3L207.2 477.2L205.1 476.8ZM209.3 455.0L211.5 455.4L211.9 453.2L209.7 452.8ZM207.1 482.5L209.2 482.9L209.6 480.8L207.5 480.3ZM212.9 452.6L215.0 453.0L215.5 450.8L213.3 450.4ZM213.6 480.7L215.8 481.1L216.2 478.9L214.1 478.5Z" fill="#f08582"/>
<path d="M164.4 446.2L166.6 446.7L167.0 444.5L164.8 444.1ZM165.7 455.8L167.8 456.2L168.2 454.1L166.1 453.7ZM169.3 469.0L171.5 469.4L171.9 467.2L169.7 466.8ZM175.2 454.6L177.4 455.0L177.8 452.8L175.6 452.4ZM187.9 469.4L190.0 469.9L190.4 467.7L188.3 467.3ZM199.8 456.2L201.9 456.6L202.3 454.5L200.2 454.1ZM200.9 450.2L203.1 450.7L203.5 448.5L201.3 448.1ZM198.7 477.8L200.8 478.2L201.2 476.0L199.1 475.6ZM201.6 462.8L203.7 463.2L204.2 461.1L202.0 460.6ZM202.2 459.8L204.3 460.2L204.7 458.1L202.6 457.6ZM200.5 484.3L202.7 484.8L203.1 482.6L200.9 482.2ZM205.2 460.4L207.3 460.8L207.7 458.6L205.6 458.2ZM207.5 448.4L209.6 448.8L210.1 446.7L207.9 446.3ZM205.2 475.9L207.4 476.4L207.8 474.2L205.7 473.8ZM207.0 467.0L209.1 467.4L209.6 465.2L207.4 464.8ZM210.0 467.5L212.1 468.0L212.6 465.8L210.4 465.4ZM214.7 459.1L216.9 459.6L217.3 457.4L215.1 457.0ZM215.3 456.1L217.5 456.6L217.9 454.4L215.7 454.0ZM213.1 483.7L215.2 484.1L215.6 481.9L213.5 481.5ZM214.2 477.7L216.4 478.1L216.8 475.9L214.6 475.5Z" fill="#d3d6d9"/>
<path d="M165.0 443.3L167.1 443.7L167.6 441.5L165.4 441.1ZM166.2 437.3L168.3 437.7L168.7 435.5L166.6 435.1ZM162.7 470.8L164.9 471.2L165.3 469.0L163.2 468.6ZM165.1 458.8L167.2 459.2L167.6 457.1L165.5 456.6ZM168.6 440.8L170.7 441.3L171.1 439.1L169.0 438.7ZM164.6 477.4L166.7 477.8L167.2 475.6L165.0 475.2ZM167.5 462.4L169.6 462.8L170.1 460.6L167.9 460.2ZM172.1 438.4L174.3 438.8L174.7 436.7L172.6 436.3ZM171.1 460.0L173.2 460.4L173.6 458.2L171.5 457.8ZM172.8 451.0L175.0 451.4L175.4 449.3L173.2 448.8ZM170.0 481.5L172.1 481.9L172.6 479.8L170.4 479.4ZM172.3 469.5L174.5 470.0L174.9 467.8L172.7 467.4ZM175.3 470.1L177.5 470.5L177.9 468.4L175.7 468.0ZM177.6 458.1L179.8 458.6L180.2 456.4L178.1 456.0ZM177.1 476.7L179.3 477.1L179.7 474.9L177.6 474.5ZM180.0 461.7L182.2 462.1L182.6 460.0L180.5 459.6ZM180.6 458.7L182.8 459.1L183.2 457.0L181.0 456.6ZM181.2 455.7L183.4 456.1L183.8 454.0L181.6 453.6ZM182.4 449.7L184.5 450.2L184.9 448.0L182.8 447.6ZM179.0 483.3L181.1 483.7L181.5 481.5L179.4 481.1ZM180.1 477.3L182.3 477.7L182.7 475.5L180.5 475.1ZM187.1 441.3L189.3 441.8L189.7 439.6L187.5 439.2ZM186.0 462.9L188.2 463.3L188.6 461.1L186.5 460.7ZM187.8 453.9L189.9 454.3L190.4 452.2L188.2 451.7ZM188.4 450.9L190.5 451.3L190.9 449.2L188.8 448.7ZM188.9 447.9L191.1 448.3L191.5 446.2L189.4 445.8ZM186.1 478.4L188.3 478.8L188.7 476.7L186.5 476.3ZM193.7 439.5L195.8 439.9L196.3 437.8L194.1 437.4ZM191.4 467.0L193.6 467.5L194.0 465.3L191.9 464.9ZM194.3 452.1L196.5 452.5L196.9 450.3L194.8 449.9ZM195.5 446.1L197.7 446.5L198.1 444.3L195.9 443.9ZM194.4 467.6L196.6 468.0L197.0 465.9L194.9 465.5ZM194.5 483.2L196.7 483.6L197.1 481.4L194.9 481.0ZM197.4 468.2L199.6 468.6L200.0 466.5L197.8 466.0Z" fill="#e95451"/>
<path d="M163.9 464.8L166.1 465.2L166.5 463.1L164.3 462.6ZM163.4 483.3L165.6 483.8L166.0 481.6L163.8 481.2ZM165.2 474.4L167.3 474.8L167.7 472.6L165.6 472.2ZM168.7 456.4L170.8 456.8L171.2 454.7L169.1 454.2ZM169.8 450.4L172.0 450.8L172.4 448.7L170.2 448.2ZM171.0 444.4L173.1 444.8L173.6 442.7L171.4 442.3ZM168.7 471.9L170.9 472.4L171.3 470.2L169.2 469.8ZM176.4 448.6L178.5 449.0L179.0 446.8L176.8 446.4ZM178.1 439.6L180.3 440.0L180.7 437.9L178.5 437.4ZM175.9 467.1L178.0 467.5L178.5 465.4L176.3 465.0ZM178.2 455.1L180.4 455.6L180.8 453.4L178.6 453.0ZM179.4 449.2L181.5 449.6L182.0 447.4L179.8 447.0ZM182.5 480.8L184.7 481.3L185.1 479.1L183.0 478.7ZM184.3 471.9L186.4 472.3L186.9 470.1L184.7 469.7ZM189.5 444.9L191.7 445.3L192.1 443.2L189.9 442.8ZM189.6 460.5L191.8 460.9L192.2 458.7L190.0 458.3ZM190.8 454.5L192.9 454.9L193.3 452.7L191.2 452.3ZM192.5 445.5L194.7 445.9L195.1 443.8L192.9 443.3ZM192.0 464.0L194.2 464.5L194.6 462.3L192.4 461.9ZM192.6 461.0L194.8 461.5L195.2 459.3L193.0 458.9ZM193.2 458.1L195.3 458.5L195.8 456.3L193.6 455.9ZM194.9 449.1L197.1 449.5L197.5 447.3L195.3 446.9ZM196.7 440.1L198.8 440.5L199.3 438.4L197.1 437.9ZM196.8 471.2L199.0 471.6L199.4 469.5L197.3 469.0ZM197.5 483.8L199.7 484.2L200.1 482.0L197.9 481.6ZM200.4 468.8L202.6 469.2L203.0 467.0L200.8 466.6ZM202.7 456.8L204.9 457.2L205.3 455.1L203.2 454.7ZM208.1 445.4L210.2 445.8L210.6 443.7L208.5 443.3ZM207.6 464.0L209.7 464.4L210.1 462.2L208.0 461.8ZM207.7 479.5L209.8 479.9L210.2 477.8L208.1 477.4ZM214.6 443.6L216.8 444.0L217.2 441.8L215.1 441.4ZM212.4 471.1L214.6 471.5L215.0 469.4L212.8 469.0Z" fill="#f28f8c"/>
<path d="M166.2 452.8L168.4 453.2L168.8 451.1L166.7 450.7ZM177.5 442.6L179.7 443.0L180.1 440.9L178.0 440.4ZM179.5 464.7L181.6 465.1L182.0 463.0L179.9 462.6ZM183.0 446.7L185.1 447.2L185.5 445.0L183.4 444.6ZM185.4 450.3L187.5 450.7L187.9 448.6L185.8 448.2ZM187.3 472.4L189.4 472.9L189.9 470.7L187.7 470.3ZM196.3 474.2L198.4 474.6L198.8 472.5L196.7 472.0ZM198.0 465.2L200.2 465.6L200.6 463.5L198.4 463.1ZM199.2 459.2L201.3 459.6L201.7 457.5L199.6 457.1ZM201.5 447.2L203.7 447.7L204.1 445.5L201.9 445.1ZM202.1 444.2L204.2 444.7L204.7 442.5L202.5 442.1ZM203.9 450.8L206.1 451.2L206.5 449.1L204.3 448.7ZM205.7 441.8L207.8 442.3L208.2 440.1L206.1 439.7ZM201.7 478.3L203.8 478.8L204.2 476.6L202.1 476.2ZM204.0 466.4L206.2 466.8L206.6 464.6L204.4 464.2ZM210.1 483.1L212.2 483.5L212.6 481.3L210.5 480.9ZM211.8 474.1L214.0 474.5L214.4 472.4L212.2 471.9Z" fill="#bfc4c9"/>
<path d="M167.4 446.8L169.6 447.2L170.0 445.1L167.8 444.7ZM174.1 460.6L176.2 461.0L176.6 458.8L174.5 458.4ZM183.5 443.8L185.7 444.2L186.1 442.0L184.0 441.6ZM182.0 483.8L184.1 484.3L184.5 482.1L182.4 481.7ZM183.7 474.9L185.9 475.3L186.3 473.1L184.1 472.7ZM189.1 479.0L191.3 479.4L191.7 477.3L189.5 476.9ZM193.3 473.6L195.4 474.0L195.8 471.9L193.7 471.5ZM193.8 470.6L196.0 471.0L196.4 468.9L194.3 468.5ZM199.7 440.7L201.8 441.1L202.2 438.9L200.1 438.5ZM198.6 462.2L200.7 462.6L201.2 460.5L199.0 460.1ZM204.5 447.8L206.6 448.2L207.1 446.1L204.9 445.7ZM206.3 454.4L208.5 454.8L208.9 452.7L206.7 452.2ZM204.1 481.9L206.2 482.3L206.7 480.2L204.5 479.8ZM208.7 458.0L210.9 458.4L211.3 456.2L209.2 455.8ZM210.5 449.0L212.6 449.4L213.1 447.3L210.9 446.8ZM211.6 443.0L213.8 443.4L214.2 441.3L212.1 440.8ZM211.1 461.5L213.3 462.0L213.7 459.8L211.6 459.4ZM211.7 458.6L213.9 459.0L214.3 456.8L212.1 456.4ZM212.3 455.6L214.5 456.0L214.9 453.8L212.7 453.4ZM211.2 477.1L213.4 477.5L213.8 475.4L211.7 474.9ZM214.1 462.1L216.3 462.5L216.7 460.4L214.6 460.0ZM214.8 474.7L217.0 475.1L217.4 472.9L215.2 472.5Z" fill="#c9cdd1"/>
<path d="M169.1 437.8L171.3 438.3L171.7 436.1L169.6 435.7ZM168.2 474.9L170.3 475.4L170.7 473.2L168.6 472.8ZM170.5 463.0L172.6 463.4L173.1 461.2L170.9 460.8ZM174.0 445.0L176.1 445.4L176.5 443.3L174.4 442.8ZM177.0 445.6L179.1 446.0L179.5 443.8L177.4 443.4ZM178.7 436.6L180.9 437.0L181.3 434.9L179.1 434.4ZM173.6 479.1L175.7 479.5L176.1 477.4L174.0 476.9ZM174.7 473.1L176.9 473.5L177.3 471.4L175.1 471.0ZM180.5 443.2L182.7 443.6L183.1 441.4L181.0 441.0ZM176.6 479.7L178.7 480.1L179.1 477.9L177.0 477.5ZM184.7 437.8L186.9 438.2L187.3 436.0L185.1 435.6ZM179.5 480.3L181.7 480.7L182.1 478.5L180.0 478.1ZM181.9 468.3L184.0 468.7L184.4 466.5L182.3 466.1ZM184.9 468.9L187.0 469.3L187.4 467.1L185.3 466.7ZM190.7 438.9L192.8 439.3L193.3 437.2L191.1 436.8ZM185.0 484.4L187.1 484.8L187.5 482.7L185.4 482.3ZM186.7 475.4L188.9 475.9L189.3 473.7L187.1 473.3ZM190.3 473.0L192.4 473.4L192.8 471.3L190.7 470.9ZM196.1 443.1L198.2 443.5L198.7 441.3L196.5 440.9ZM199.1 443.7L201.2 444.1L201.7 441.9L199.5 441.5ZM198.1 480.8L200.2 481.2L200.7 479.0L198.5 478.6ZM202.8 472.4L205.0 472.8L205.4 470.6L203.3 470.2ZM203.4 469.4L205.6 469.8L206.0 467.6L203.8 467.2ZM208.2 461.0L210.3 461.4L210.7 459.2L208.6 458.8ZM208.8 473.5L211.0 473.9L211.4 471.8L209.2 471.4ZM209.4 470.5L211.6 470.9L212.0 468.8L209.8 468.4ZM214.1 446.6L216.2 447.0L216.6 444.8L214.5 444.4ZM213.6 465.1L215.7 465.5L216.1 463.4L214.0 463.0Z" fill="#ee7875"/>
<path d="M164.0 480.3L166.2 480.8L166.6 478.6L164.4 478.2ZM167.6 477.9L169.7 478.4L170.1 476.2L168.0 475.8ZM171.6 457.0L173.8 457.4L174.2 455.2L172.1 454.8ZM176.0 482.7L178.1 483.1L178.5 480.9L176.4 480.5ZM185.9 447.3L188.1 447.7L188.5 445.6L186.4 445.2ZM185.5 465.9L187.6 466.3L188.0 464.1L185.9 463.7ZM187.2 456.9L189.4 457.3L189.8 455.2L187.6 454.7ZM185.5 481.4L187.7 481.8L188.1 479.7L186.0 479.3ZM191.4 451.5L193.5 451.9L193.9 449.7L191.8 449.3ZM188.5 482.0L190.7 482.4L191.1 480.3L188.9 479.9ZM192.1 479.6L194.3 480.0L194.7 477.9L192.5 477.4ZM200.3 453.2L202.5 453.6L202.9 451.5L200.8 451.1ZM199.8 471.8L202.0 472.2L202.4 470.0L200.3 469.6ZM203.3 453.8L205.5 454.2L205.9 452.1L203.7 451.7ZM205.1 444.8L207.2 445.2L207.7 443.1L205.5 442.7ZM206.9 451.4L209.1 451.8L209.5 449.7L207.3 449.2ZM209.9 452.0L212.1 452.4L212.5 450.2L210.3 449.8ZM211.1 446.0L213.2 446.4L213.6 444.3L211.5 443.8ZM208.2 476.5L210.4 476.9L210.8 474.8L208.7 474.4ZM213.5 449.6L215.6 450.0L216.1 447.8L213.9 447.4ZM210.6 480.1L212.8 480.5L213.2 478.4L211.1 477.9ZM215.4 471.7L217.5 472.1L218.0 470.0L215.8 469.5Z" fill="#c4c4c4"/>
<path d="M165.7 471.4L167.9 471.8L168.3 469.6L166.2 469.2ZM172.7 435.4L174.9 435.9L175.3 433.7L173.1 433.3ZM166.4 483.9L168.6 484.3L169.0 482.2L166.8 481.8ZM172.2 454.0L174.4 454.4L174.8 452.2L172.6 451.8ZM170.6 478.5L172.7 478.9L173.1 476.8L171.0 476.4ZM171.1 475.5L173.3 475.9L173.7 473.8L171.6 473.4ZM172.9 466.5L175.0 467.0L175.5 464.8L173.3 464.4ZM173.5 463.5L175.6 464.0L176.0 461.8L173.9 461.4ZM175.8 451.6L178.0 452.0L178.4 449.8L176.2 449.4ZM177.1 461.1L179.2 461.6L179.6 459.4L177.5 459.0ZM180.0 446.2L182.1 446.6L182.5 444.4L180.4 444.0ZM177.7 473.7L179.9 474.1L180.3 472.0L178.1 471.5ZM178.9 467.7L181.0 468.1L181.5 466.0L179.3 465.5ZM182.5 465.3L184.6 465.7L185.0 463.6L182.9 463.1ZM183.6 459.3L185.8 459.7L186.2 457.6L184.0 457.1ZM186.5 444.3L188.7 444.8L189.1 442.6L186.9 442.2ZM188.4 466.5L190.6 466.9L191.0 464.7L188.9 464.3ZM192.7 476.6L194.8 477.0L195.3 474.9L193.1 474.4ZM195.6 461.6L197.8 462.0L198.2 459.9L196.0 459.5ZM197.3 452.6L199.5 453.1L199.9 450.9L197.8 450.5ZM205.8 472.9L208.0 473.4L208.4 471.2L206.2 470.8ZM210.6 464.5L212.7 465.0L213.1 462.8L211.0 462.4Z" fill="#f5a3a0"/>
</g>
<path d="M116.5 376.2 V480.8 H214.2" fill="none" stroke="#3a3a3a" stroke-width="0.65"/>
<line x1="115.2" y1="378.5" x2="116.8" y2="378.5" stroke="#333" stroke-width="0.6"/>
<rect x="112.5" y="377.6" width="1.9" height="1.8" fill="#8a8a8a" opacity="0.8"/>
<line x1="115.2" y1="396" x2="116.8" y2="396" stroke="#333" stroke-width="0.6"/>
<rect x="112.5" y="395.1" width="1.9" height="1.8" fill="#8a8a8a" opacity="0.8"/>
<line x1="115.2" y1="415.5" x2="116.8" y2="415.5" stroke="#333" stroke-width="0.6"/>
<rect x="112.5" y="414.6" width="1.9" height="1.8" fill="#8a8a8a" opacity="0.8"/>
<line x1="115.2" y1="435" x2="116.8" y2="435" stroke="#333" stroke-width="0.6"/>
<rect x="112.5" y="434.1" width="1.9" height="1.8" fill="#8a8a8a" opacity="0.8"/>
<line x1="115.2" y1="454.5" x2="116.8" y2="454.5" stroke="#333" stroke-width="0.6"/>
<rect x="112.5" y="453.6" width="1.9" height="1.8" fill="#8a8a8a" opacity="0.8"/>
<line x1="115.2" y1="473" x2="116.8" y2="473" stroke="#333" stroke-width="0.6"/>
<rect x="112.5" y="472.1" width="1.9" height="1.8" fill="#8a8a8a" opacity="0.8"/>
<line x1="127" y1="480.5" x2="127" y2="482.1" stroke="#333" stroke-width="0.6"/>
<rect x="125.4" y="483.3" width="3.2" height="1.7" fill="#8a8a8a" opacity="0.6"/>
<line x1="140.5" y1="480.5" x2="140.5" y2="482.1" stroke="#333" stroke-width="0.6"/>
<rect x="138.9" y="483.3" width="3.2" height="1.7" fill="#8a8a8a" opacity="0.6"/>
<line x1="154.5" y1="480.5" x2="154.5" y2="482.1" stroke="#333" stroke-width="0.6"/>
<rect x="152.9" y="483.3" width="3.2" height="1.7" fill="#8a8a8a" opacity="0.6"/>
<line x1="168" y1="480.5" x2="168" y2="482.1" stroke="#333" stroke-width="0.6"/>
<rect x="166.4" y="483.3" width="3.2" height="1.7" fill="#8a8a8a" opacity="0.6"/>
<line x1="181" y1="480.5" x2="181" y2="482.1" stroke="#333" stroke-width="0.6"/>
<rect x="179.4" y="483.3" width="3.2" height="1.7" fill="#8a8a8a" opacity="0.6"/>
<line x1="194.5" y1="480.5" x2="194.5" y2="482.1" stroke="#333" stroke-width="0.6"/>
<rect x="192.9" y="483.3" width="3.2" height="1.7" fill="#8a8a8a" opacity="0.6"/>
<line x1="208" y1="480.5" x2="208" y2="482.1" stroke="#333" stroke-width="0.6"/>
<rect x="206.4" y="483.3" width="3.2" height="1.7" fill="#8a8a8a" opacity="0.6"/>
<rect x="159" y="486.8" width="12" height="1.8" fill="#9a9a9a" opacity="0.8"/>
<rect x="112.4" y="424" width="1.6" height="9" fill="#9a9a9a" opacity="0.7"/>
<text x="117.5" y="375.2" font-size="2.8" fill="#555">Observation <tspan font-weight="bold" fill="#222">Heat Maps</tspan></text>
<rect x="183" y="477.2" width="31" height="2.6" fill="#fff" opacity="0.55"/>
<rect x="184" y="477.9" width="13" height="1.4" fill="#777" opacity="0.6"/><rect x="206" y="477.9" width="7" height="1.4" fill="#555" opacity="0.7"/>
<rect x="215.7" y="376.6" width="2.5" height="11.4" fill="#5b2a86"/>
<rect x="215.7" y="388" width="2.5" height="10.0" fill="#8e55b0"/>
<rect x="215.7" y="398" width="2.5" height="10.0" fill="#b7a3dc"/>
<rect x="215.7" y="408" width="2.5" height="12.0" fill="#d6d6d6"/>
<rect x="215.7" y="420" width="2.5" height="12.0" fill="#ececec"/>
<rect x="215.7" y="432" width="2.5" height="12.0" fill="#f3f3f3"/>
<rect x="215.7" y="444" width="2.5" height="8.0" fill="#d2d2d2"/>
<rect x="215.7" y="452" width="2.5" height="10.0" fill="#8fcf8f"/>
<rect x="215.7" y="462" width="2.5" height="9.0" fill="#58a868"/>
<rect x="215.7" y="471" width="2.5" height="8.2" fill="#2f8a45"/>
<circle cx="222.4" cy="377.9" r="1.5" fill="none" stroke="#e8963a" stroke-width="0.8"/><path d="M221 378.6 A1.5 1.5 0 0 0 223.8 378.6" stroke="#3b8ad9" stroke-width="0.8" fill="none"/><path d="M221.2 377 A1.5 1.5 0 0 1 222.4 376.4" stroke="#6aa84f" stroke-width="0.8" fill="none"/>
<rect x="221.3" y="382.9" width="2.2" height="2.2" rx="0.6" fill="#b9bdc4" opacity="0.85"/>
<rect x="221.3" y="389.4" width="2.2" height="2.2" rx="0.6" fill="#b9bdc4" opacity="0.85"/>
<rect x="221.3" y="395.4" width="2.2" height="2.2" rx="0.6" fill="#b9bdc4" opacity="0.85"/>
<rect x="221.3" y="401.9" width="2.2" height="2.2" rx="0.6" fill="#b9bdc4" opacity="0.85"/>
<rect x="221.3" y="407.9" width="2.2" height="2.2" rx="0.6" fill="#b9bdc4" opacity="0.85"/>
<rect x="221.3" y="413.9" width="2.2" height="2.2" rx="0.6" fill="#b9bdc4" opacity="0.85"/>
<rect x="221.3" y="418.9" width="2.2" height="2.2" rx="0.6" fill="#b9bdc4" opacity="0.85"/>
<line x1="219.6" y1="381.5" x2="219.6" y2="386.5" stroke="#9cc7f2" stroke-width="0.6"/>
<line x1="219.6" y1="394" x2="219.6" y2="399" stroke="#9cc7f2" stroke-width="0.6"/>
<line x1="219.6" y1="413" x2="219.6" y2="421" stroke="#9cc7f2" stroke-width="0.6"/>
</g>
<g id="t2">
<rect x="244.9" y="372.3" width="103.7" height="103.2" fill="#ffffff"/>
<path d="M244.9 372.3 H348.6 M244.9 475.5 H348.6" stroke="#e2e2e2" stroke-width="0.7" fill="none"/>
<path d="M244.9 372.3 V475.5" stroke="#ededed" stroke-width="0.6" fill="none"/>
<path d="M298.5 387.3Q300.6 389.5 300.7 392.4M298.5 387.3Q307.1 396.1 316.3 404.1M298.5 387.3Q298.5 398.3 292.5 407.5M298.5 387.3Q279.4 396.0 268.9 414.1M298.5 387.3Q292.4 402.5 292.5 418.9M298.5 387.3Q307.4 406.2 317.5 424.5M298.5 387.3Q291.3 413.2 307.0 435.0M274.5 392.4Q282.8 400.7 292.5 407.5M274.5 392.4Q274.5 404.0 268.9 414.1M274.5 392.4Q273.3 406.8 267.4 419.9M274.5 392.4Q256.1 403.2 253.1 424.3M274.5 392.4Q253.2 412.1 258.9 440.5M279.6 394.4Q289.8 389.1 300.7 392.4M279.6 394.4Q290.9 401.8 303.6 397.3M279.6 394.4Q281.7 405.2 292.5 407.5M279.6 394.4Q295.4 402.7 311.7 409.9M279.6 394.4Q273.2 403.7 268.9 414.1M279.6 394.4Q278.9 409.7 267.4 419.9M279.6 394.4Q285.4 407.0 292.5 418.9M284.4 394.9Q300.3 399.6 316.3 404.1M284.4 394.9Q287.5 401.8 292.5 407.5M284.4 394.9Q283.0 409.6 268.9 414.1M284.4 394.9Q291.0 414.5 311.7 416.3M284.4 394.9Q275.7 407.2 267.4 419.9M284.4 394.9Q290.1 406.3 292.5 418.9M300.7 392.4Q306.0 401.6 316.3 404.1M300.7 392.4Q305.4 401.7 311.7 409.9M300.7 392.4Q296.8 405.7 292.5 418.9M300.7 392.4Q304.8 410.7 317.5 424.5M303.6 397.3Q312.0 396.9 316.3 404.1M303.6 397.3Q297.8 402.1 292.5 407.5M303.6 397.3Q308.4 403.1 311.7 409.9M303.6 397.3Q301.6 409.3 311.7 416.3M303.6 397.3Q291.6 404.8 292.5 418.9M303.6 397.3Q282.7 418.9 253.1 424.3M303.6 397.3Q311.1 410.6 317.5 424.5M303.6 397.3Q301.1 421.7 279.6 433.5M316.3 404.1Q304.8 409.6 292.5 412.9M316.3 404.1Q311.3 409.2 311.7 416.3M316.3 404.1Q287.4 398.3 267.4 419.9M316.3 404.1Q317.2 414.3 317.5 424.5M316.3 404.1Q292.3 429.7 258.9 440.5M264.0 410.2Q280.1 408.4 292.5 418.9M264.0 410.2Q283.5 426.1 307.0 435.0M292.5 407.5Q278.7 403.8 268.9 414.1M292.5 407.5Q293.9 410.2 292.5 412.9M292.5 407.5Q300.4 415.6 311.7 416.3M292.5 407.5Q296.3 413.2 292.5 418.9M292.5 407.5Q291.6 423.3 279.6 433.5M292.5 407.5Q305.0 418.4 307.0 435.0M292.5 407.5Q281.2 421.8 278.4 439.8M292.5 407.5Q301.5 423.7 301.9 442.2M311.7 409.9Q312.3 413.1 311.7 416.3M311.7 409.9Q301.3 412.8 292.5 418.9M311.7 409.9Q318.6 415.6 317.5 424.5M311.7 409.9Q301.6 424.5 301.9 442.2M268.9 414.1Q280.4 407.2 292.5 412.9M268.9 414.1Q260.9 419.0 253.1 424.3M268.9 414.1Q277.6 421.9 279.6 433.5M268.9 414.1Q269.5 429.4 258.9 440.5M292.5 412.9Q279.8 415.8 267.4 419.9M292.5 412.9Q292.7 415.9 292.5 418.9M292.5 412.9Q306.0 416.5 317.5 424.5M292.5 412.9Q301.1 423.0 307.0 435.0M292.5 412.9Q284.9 426.0 278.4 439.8M292.5 412.9Q304.2 425.3 301.9 442.2M311.7 416.3Q302.6 421.6 292.5 418.9M311.7 416.3Q313.8 420.9 317.5 424.5M311.7 416.3Q294.0 421.8 279.6 433.5M267.4 419.9Q260.2 421.8 253.1 424.3M267.4 419.9Q270.2 429.7 279.6 433.5M292.5 418.9Q304.5 423.7 317.5 424.5M253.1 424.3Q264.0 435.5 279.6 433.5M256.0 431.3Q268.2 428.0 279.6 433.5M256.0 431.3Q255.9 436.4 258.9 440.5M279.6 433.5Q293.0 440.2 307.0 435.0M279.6 433.5Q267.3 431.2 258.9 440.5M307.0 435.0Q293.3 441.1 278.4 439.8M258.9 440.5Q280.7 435.8 301.9 442.2" fill="none" stroke="#a8d0f6" stroke-width="0.4" opacity="0.38"/>
<ellipse cx="288.6" cy="411.2" rx="29.1" ry="25.5" fill="none" stroke="#b5d8f7" stroke-width="0.45" stroke-dasharray="1.6 0.8" opacity="0.8"/>
<ellipse cx="295.9" cy="420.9" rx="24.3" ry="23.1" fill="none" stroke="#b5d8f7" stroke-width="0.45" stroke-dasharray="1.6 0.8" opacity="0.8"/>
<ellipse cx="276.4" cy="420.9" rx="23.1" ry="19.4" fill="none" stroke="#b5d8f7" stroke-width="0.45" stroke-dasharray="1.6 0.8" opacity="0.8"/>
<ellipse cx="303.2" cy="408.7" rx="18.2" ry="20.6" fill="none" stroke="#b5d8f7" stroke-width="0.45" stroke-dasharray="1.6 0.8" opacity="0.8"/>
<ellipse cx="312.9" cy="445.2" rx="13.4" ry="12.1" fill="none" stroke="#b5d8f7" stroke-width="0.45" stroke-dasharray="1.6 0.8" opacity="0.8"/>
<ellipse cx="286.2" cy="414.8" rx="34.0" ry="28.7" fill="none" stroke="#b5d8f7" stroke-width="0.45" stroke-dasharray="1.6 0.8" opacity="0.8"/>
<ellipse cx="269.1" cy="425.7" rx="15.8" ry="14.6" fill="none" stroke="#b5d8f7" stroke-width="0.45" stroke-dasharray="1.6 0.8" opacity="0.8"/>
<ellipse cx="310.4" cy="423.3" rx="12.1" ry="21.9" fill="none" stroke="#b5d8f7" stroke-width="0.45" stroke-dasharray="1.6 0.8" opacity="0.8"/>
<path d="M317.5 424.5 L340.3 420.4" stroke="#9ecbf5" stroke-width="0.5" stroke-dasharray="1.4 1" fill="none"/>
<path d="M317.5 424.5 L340.3 427.4" stroke="#9ecbf5" stroke-width="0.5" stroke-dasharray="1.4 1" fill="none"/>
<path d="M307.0 435.0Q314.4 445.0 327.0 445.2" stroke="#f08a6a" stroke-width="0.45" stroke-dasharray="1.3 0.9" fill="none" opacity="0.9"/>
<path d="M307.0 435.0Q319.0 436.1 327.0 445.2" stroke="#f08a6a" stroke-width="0.45" stroke-dasharray="1.3 0.9" fill="none" opacity="0.9"/>
<path d="M307.0 435.0Q309.5 449.4 322.6 456.1" stroke="#f08a6a" stroke-width="0.45" stroke-dasharray="1.3 0.9" fill="none" opacity="0.9"/>
<path d="M307.0 435.0Q319.0 442.4 322.6 456.1" stroke="#f08a6a" stroke-width="0.45" stroke-dasharray="1.3 0.9" fill="none" opacity="0.9"/>
<path d="M307.0 435.0Q307.0 448.9 318.2 457.3" stroke="#f08a6a" stroke-width="0.45" stroke-dasharray="1.3 0.9" fill="none" opacity="0.9"/>
<path d="M307.0 435.0Q317.1 443.9 318.2 457.3" stroke="#f08a6a" stroke-width="0.45" stroke-dasharray="1.3 0.9" fill="none" opacity="0.9"/>
<path d="M307.0 435.0Q304.7 448.1 313.8 457.8" stroke="#f08a6a" stroke-width="0.45" stroke-dasharray="1.3 0.9" fill="none" opacity="0.9"/>
<path d="M307.0 435.0Q315.0 445.0 313.8 457.8" stroke="#f08a6a" stroke-width="0.45" stroke-dasharray="1.3 0.9" fill="none" opacity="0.9"/>
<path d="M307.0 435.0Q300.2 447.3 306.1 460.2" stroke="#f08a6a" stroke-width="0.45" stroke-dasharray="1.3 0.9" fill="none" opacity="0.9"/>
<path d="M307.0 435.0Q311.6 447.8 306.1 460.2" stroke="#f08a6a" stroke-width="0.45" stroke-dasharray="1.3 0.9" fill="none" opacity="0.9"/>
<path d="M260.9 435.4Q270.0 423.8 264.0 410.2" stroke="#ef6b5a" stroke-width="0.5" stroke-dasharray="1.3 0.9" fill="none" opacity="0.9"/>
<path d="M260.9 435.4Q260.4 427.5 253.1 424.3" stroke="#ef6b5a" stroke-width="0.5" stroke-dasharray="1.3 0.9" fill="none" opacity="0.9"/>
<path d="M260.9 435.4Q259.7 431.9 256.0 431.3" stroke="#ef6b5a" stroke-width="0.5" stroke-dasharray="1.3 0.9" fill="none" opacity="0.9"/>
<path d="M260.9 435.4Q258.4 437.4 258.9 440.5" stroke="#ef6b5a" stroke-width="0.5" stroke-dasharray="1.3 0.9" fill="none" opacity="0.9"/>
<path d="M260.9 435.4Q273.2 437.5 280.8 427.7" stroke="#ef6b5a" stroke-width="0.5" stroke-dasharray="1.3 0.9" fill="none" opacity="0.9"/>
<path d="M260.9 435.4Q268.3 442.9 278.4 439.8" stroke="#ef6b5a" stroke-width="0.5" stroke-dasharray="1.3 0.9" fill="none" opacity="0.9"/>
<path d="M260.9 435.4Q268.8 429.6 267.4 419.9" stroke="#ef6b5a" stroke-width="0.5" stroke-dasharray="1.3 0.9" fill="none" opacity="0.9"/>
<path d="M280.8 427.7L292.5 407.5" stroke="#1b1b1b" stroke-width="0.8" fill="none"/>
<path d="M280.8 427.7L268.9 414.1" stroke="#1b1b1b" stroke-width="0.8" fill="none"/>
<path d="M280.8 427.7L253.1 424.3" stroke="#1b1b1b" stroke-width="0.6" stroke-dasharray="2.4 0.8" fill="none"/>
<path d="M280.8 427.7L256.0 431.3" stroke="#1b1b1b" stroke-width="0.6" fill="none"/>
<path d="M280.8 427.7L307.0 435.0" stroke="#1b1b1b" stroke-width="0.6" stroke-dasharray="2.4 0.8" fill="none"/>
<circle cx="298.5" cy="387.3" r="1.2" fill="#7ab8f0"/>
<circle cx="274.5" cy="392.4" r="1.3" fill="#7ab8f0"/>
<circle cx="279.6" cy="394.4" r="1.5" fill="#7ab8f0"/>
<circle cx="284.4" cy="394.9" r="1.2" fill="#7ab8f0"/>
<circle cx="300.7" cy="392.4" r="1.6" fill="#7ab8f0"/>
<circle cx="303.6" cy="397.3" r="1.3" fill="#7ab8f0"/>
<circle cx="316.3" cy="404.1" r="1.2" fill="#7ab8f0"/>
<circle cx="264.0" cy="410.2" r="1.5" fill="#7ab8f0"/>
<circle cx="292.5" cy="407.5" r="1.7" fill="#7ab8f0"/>
<circle cx="311.7" cy="409.9" r="1.6" fill="#7ab8f0"/>
<circle cx="268.9" cy="414.1" r="1.9" fill="#7ab8f0"/>
<circle cx="292.5" cy="412.9" r="2.3" fill="#7ab8f0"/>
<circle cx="311.7" cy="416.3" r="1.3" fill="#7ab8f0"/>
<circle cx="267.4" cy="419.9" r="1.5" fill="#7ab8f0"/>
<circle cx="292.5" cy="418.9" r="1.7" fill="#7ab8f0"/>
<circle cx="253.1" cy="424.3" r="1.1" fill="#7ab8f0"/>
<circle cx="317.5" cy="424.5" r="1.6" fill="#7ab8f0"/>
<circle cx="256.0" cy="431.3" r="1.5" fill="#7ab8f0"/>
<circle cx="279.6" cy="433.5" r="1.9" fill="#7ab8f0"/>
<circle cx="307.0" cy="435.0" r="1.7" fill="#7ab8f0"/>
<circle cx="278.4" cy="439.8" r="1.5" fill="#7ab8f0"/>
<circle cx="258.9" cy="440.5" r="1.1" fill="#7ab8f0"/>
<circle cx="301.9" cy="442.2" r="1.3" fill="#7ab8f0"/>
<circle cx="340.3" cy="420.4" r="0.8" fill="#f2703d"/>
<rect x="338.1" y="421.8" width="4.4" height="1.1" fill="#e8a58c" opacity="0.8"/>
<circle cx="340.3" cy="427.4" r="0.8" fill="#f2703d"/>
<rect x="338.1" y="428.8" width="4.4" height="1.1" fill="#e8a58c" opacity="0.8"/>
<circle cx="327.0" cy="445.2" r="0.8" fill="#f2703d"/>
<rect x="324.8" y="446.6" width="4.4" height="1.1" fill="#e8a58c" opacity="0.8"/>
<circle cx="322.6" cy="456.1" r="0.8" fill="#f2703d"/>
<rect x="320.4" y="457.5" width="4.4" height="1.1" fill="#e8a58c" opacity="0.8"/>
<circle cx="318.2" cy="457.3" r="0.8" fill="#f2703d"/>
<rect x="316.0" y="458.7" width="4.4" height="1.1" fill="#e8a58c" opacity="0.8"/>
<circle cx="313.8" cy="457.8" r="0.8" fill="#f2703d"/>
<rect x="311.6" y="459.2" width="4.4" height="1.1" fill="#e8a58c" opacity="0.8"/>
<circle cx="306.1" cy="460.2" r="0.8" fill="#f2703d"/>
<rect x="303.9" y="461.6" width="4.4" height="1.1" fill="#e8a58c" opacity="0.8"/>
<circle cx="280.8" cy="427.7" r="1.8" fill="#0a0a0a"/>
<rect x="279.6" y="429.8" width="2.4" height="1" fill="#888" opacity="0.7"/>
<circle cx="260.9" cy="435.4" r="1.7" fill="#e0151b"/>
<rect x="245" y="476.6" width="5.6" height="1.6" fill="#444" opacity="0.8"/>
<rect x="246.4" y="480.3" width="10.5" height="1.4" fill="#8d8d8d" opacity="0.8"/>
<line x1="262" y1="481.1" x2="309" y2="481.1" stroke="#dcdcdc" stroke-width="0.8"/>
<circle cx="270.4" cy="481.1" r="1.25" fill="#1f4e8c"/>
<rect x="246.4" y="484.0" width="14" height="1.4" fill="#8d8d8d" opacity="0.8"/>
<line x1="262" y1="484.8" x2="309" y2="484.8" stroke="#dcdcdc" stroke-width="0.8"/>
<circle cx="274.7" cy="484.8" r="1.25" fill="#1f4e8c"/>
<rect x="309.3" y="478.6" width="9" height="7.6" fill="#fff" stroke="#d9d9d9" stroke-width="0.5"/>
<line x1="309.3" y1="482.7" x2="318.3" y2="482.7" stroke="#d9d9d9" stroke-width="0.5"/>
</g>
<g id="t3">
<clipPath id="c3"><rect x="379.7" y="377.4" width="89.9" height="103.3"/></clipPath>
<rect x="379.7" y="377.4" width="89.9" height="103.3" fill="#f6f5f2"/>
<g clip-path="url(#c3)">
<polygon points="470.7,398.2 466.4,401.0 463.2,404.3 460.0,406.4 455.7,409.7 450.3,412.4 446.0,414.6 441.7,416.1 438.5,417.6 435.0,423.1 431.9,427.8 430.3,431.7 429.6,435.6 431.9,440.3 434.2,445.0 435.5,450.5 434.2,455.2 431.1,457.2 424.9,458.0 420.2,456.7 417.8,453.6 417.1,449.7 418.3,445.8 416.3,443.4 417.8,440.3 415.5,437.2 417.1,433.3 411.6,433.8 405.3,430.3 398.3,430.9 392.8,435.6 385.8,437.2 392.1,441.9 398.3,443.4 405.3,445.8 401.4,448.9 395.2,451.2 392.1,455.9 393.6,460.6 396.8,465.3 393.6,470.0 395.2,474.7 396.8,482.5 473.3,482.5" fill="#d3d7da"/>
<polygon points="439.7,463.0 445.2,459.8 451.4,457.5 459.2,453.6 465.5,450.5 473.3,446.9 473.3,460.9 465.5,459.1 460.8,461.4 456.1,463.0 451.4,465.3 447.8,466.9 447.5,471.6 443.6,473.4 440.5,470.0 442.1,466.1" fill="#f6f5f2"/>
<polygon points="453.0,460.9 460.8,459.1 465.5,459.8 459.2,460.9" fill="#dfe2e4"/>
<path d="M379.7 397.8 Q400.8 391.4 418.0 400.0 T446.0 391.4" stroke="#f0c9c4" stroke-width="0.4" fill="none"/>
<path d="M407.3 426.9 Q424.5 415.0 439.5 417.2" stroke="#e3dfdc" stroke-width="0.5" fill="none"/>
<path d="M417.0 440.4 L437.4 437.6" stroke="#e3dfdc" stroke-width="0.5" fill="none"/>
<text x="424.9" y="427.8" font-size="3.9" fill="#b3b7bb" text-anchor="middle" font-weight="bold" letter-spacing="0.2">NORTH</text>
<text x="424.9" y="431.9" font-size="3.9" fill="#b3b7bb" text-anchor="middle" font-weight="bold" letter-spacing="0.2">KOREA</text>
<text x="426.4" y="450.0" font-size="3.9" fill="#b3b7bb" text-anchor="middle" font-weight="bold" letter-spacing="0.2">SOUTH KOREA</text>
<circle cx="402.5" cy="384.3" r="1.58" fill="#e0181e" opacity="0.9"/>
<circle cx="396.1" cy="390.3" r="1.30" fill="#e0181e" opacity="0.9"/>
<circle cx="384.0" cy="419.3" r="1.44" fill="#e0181e" opacity="0.9"/>
<circle cx="456.3" cy="416.8" r="1.44" fill="#e0181e" opacity="0.9"/>
<circle cx="439.5" cy="436.1" r="1.58" fill="#e0181e" opacity="0.9"/>
<circle cx="393.9" cy="444.5" r="1.58" fill="#e0181e" opacity="0.9"/>
<circle cx="421.3" cy="444.7" r="1.08" fill="#e0181e" opacity="0.9"/>
<circle cx="421.3" cy="451.2" r="1.30" fill="#e0181e" opacity="0.9"/>
<circle cx="396.5" cy="472.0" r="1.01" fill="#e0181e" opacity="0.9"/>
<circle cx="388.6" cy="435.9" r="0.94" fill="#e0181e" opacity="0.9"/>
<circle cx="379.7" cy="457.0" r="0.86" fill="#e0181e" opacity="0.9"/>
<circle cx="442.1" cy="477.9" r="0.86" fill="#e0181e" opacity="0.9"/>
<circle cx="430.5" cy="434.4" r="1.08" fill="#e0181e" opacity="0.9"/>
<circle cx="416.5" cy="399.3" r="0.94" fill="#e0181e" opacity="0.9"/>
<circle cx="418.0" cy="403.6" r="0.86" fill="#e0181e" opacity="0.9"/>
<circle cx="403.0" cy="396.3" r="0.86" fill="#e0181e" opacity="0.9"/>
<circle cx="469.2" cy="387.1" r="0.72" fill="#e0181e" opacity="0.9"/>
<circle cx="457.8" cy="379.5" r="0.86" fill="#e0181e" opacity="0.9"/>
<circle cx="449.2" cy="422.6" r="0.72" fill="#e0181e" opacity="0.9"/>
<circle cx="400.8" cy="426.9" r="0.65" fill="#e0181e" opacity="0.9"/>
<circle cx="414.8" cy="441.3" r="1.44" fill="#f07a3a" opacity="0.9"/>
<circle cx="396.5" cy="434.0" r="1.08" fill="#f07a3a" opacity="0.9"/>
<circle cx="424.1" cy="455.5" r="1.30" fill="#f07a3a" opacity="0.9"/>
<circle cx="427.7" cy="455.5" r="1.08" fill="#f07a3a" opacity="0.9"/>
<circle cx="438.5" cy="473.1" r="1.44" fill="#f07a3a" opacity="0.9"/>
<circle cx="443.8" cy="468.8" r="1.08" fill="#f07a3a" opacity="0.9"/>
<circle cx="447.7" cy="471.0" r="1.08" fill="#f07a3a" opacity="0.9"/>
<circle cx="426.2" cy="469.5" r="1.08" fill="#f07a3a" opacity="0.9"/>
<circle cx="387.9" cy="466.7" r="1.08" fill="#f07a3a" opacity="0.9"/>
<circle cx="395.9" cy="472.5" r="1.37" fill="#f07a3a" opacity="0.9"/>
<circle cx="461.1" cy="393.1" r="0.86" fill="#f07a3a" opacity="0.9"/>
<circle cx="452.5" cy="385.6" r="0.86" fill="#f07a3a" opacity="0.9"/>
<circle cx="420.8" cy="401.0" r="0.86" fill="#f07a3a" opacity="0.9"/>
<circle cx="405.8" cy="394.2" r="0.86" fill="#f07a3a" opacity="0.9"/>
<circle cx="462.1" cy="473.1" r="0.94" fill="#f07a3a" opacity="0.9"/>
<circle cx="448.1" cy="419.3" r="0.86" fill="#f07a3a" opacity="0.9"/>
<circle cx="444.9" cy="416.1" r="0.86" fill="#f07a3a" opacity="0.9"/>
<circle cx="463.2" cy="455.9" r="0.86" fill="#f07a3a" opacity="0.9"/>
<circle cx="415.9" cy="406.4" r="0.72" fill="#f07a3a" opacity="0.9"/>
<circle cx="434.2" cy="466.7" r="0.72" fill="#f07a3a" opacity="0.9"/>
<circle cx="407.7" cy="386.0" r="1.44" fill="#4a48dd" opacity="0.78"/>
<circle cx="424.9" cy="384.9" r="1.58" fill="#4a48dd" opacity="0.78"/>
<circle cx="443.8" cy="384.9" r="1.30" fill="#4a48dd" opacity="0.78"/>
<circle cx="424.1" cy="393.9" r="1.44" fill="#4a48dd" opacity="0.78"/>
<circle cx="426.2" cy="412.9" r="1.66" fill="#4a48dd" opacity="0.78"/>
<circle cx="401.2" cy="427.5" r="1.80" fill="#4a48dd" opacity="0.78"/>
<circle cx="409.4" cy="434.8" r="1.44" fill="#4a48dd" opacity="0.78"/>
<circle cx="396.5" cy="440.8" r="1.44" fill="#4a48dd" opacity="0.78"/>
<circle cx="425.6" cy="432.7" r="1.44" fill="#4a48dd" opacity="0.78"/>
<circle cx="434.2" cy="441.9" r="1.58" fill="#4a48dd" opacity="0.78"/>
<circle cx="448.1" cy="436.5" r="1.44" fill="#4a48dd" opacity="0.78"/>
<circle cx="458.5" cy="440.8" r="1.44" fill="#4a48dd" opacity="0.78"/>
<circle cx="446.0" cy="449.9" r="1.44" fill="#4a48dd" opacity="0.78"/>
<circle cx="396.9" cy="457.0" r="1.80" fill="#4a48dd" opacity="0.78"/>
<circle cx="381.5" cy="452.7" r="1.44" fill="#4a48dd" opacity="0.78"/>
<circle cx="403.0" cy="464.5" r="1.44" fill="#4a48dd" opacity="0.78"/>
<circle cx="420.2" cy="464.5" r="1.44" fill="#4a48dd" opacity="0.78"/>
<circle cx="433.1" cy="464.5" r="1.30" fill="#4a48dd" opacity="0.78"/>
<circle cx="399.7" cy="478.5" r="1.58" fill="#4a48dd" opacity="0.78"/>
<circle cx="387.9" cy="468.2" r="1.44" fill="#4a48dd" opacity="0.78"/>
<circle cx="450.3" cy="452.7" r="1.30" fill="#4a48dd" opacity="0.78"/>
<circle cx="461.1" cy="446.2" r="1.08" fill="#4a48dd" opacity="0.78"/>
<circle cx="441.7" cy="424.3" r="1.08" fill="#4a48dd" opacity="0.78"/>
<circle cx="446.0" cy="416.8" r="1.08" fill="#4a48dd" opacity="0.78"/>
<circle cx="452.5" cy="417.2" r="1.08" fill="#4a48dd" opacity="0.78"/>
<circle cx="464.3" cy="416.1" r="1.08" fill="#4a48dd" opacity="0.78"/>
<circle cx="468.6" cy="424.7" r="1.08" fill="#4a48dd" opacity="0.78"/>
<circle cx="450.3" cy="393.5" r="1.08" fill="#4a48dd" opacity="0.78"/>
<circle cx="440.6" cy="393.5" r="0.86" fill="#4a48dd" opacity="0.78"/>
<circle cx="415.4" cy="394.2" r="1.08" fill="#4a48dd" opacity="0.78"/>
<circle cx="408.8" cy="411.4" r="1.08" fill="#4a48dd" opacity="0.78"/>
<circle cx="417.0" cy="412.9" r="0.94" fill="#4a48dd" opacity="0.78"/>
<circle cx="417.0" cy="419.3" r="0.86" fill="#4a48dd" opacity="0.78"/>
<circle cx="384.7" cy="428.4" r="1.08" fill="#4a48dd" opacity="0.78"/>
<circle cx="458.9" cy="403.2" r="0.94" fill="#4a48dd" opacity="0.78"/>
<circle cx="437.4" cy="405.3" r="0.86" fill="#4a48dd" opacity="0.78"/>
<circle cx="468.6" cy="400.0" r="1.08" fill="#4a48dd" opacity="0.78"/>
<circle cx="432.0" cy="434.4" r="1.08" fill="#4a48dd" opacity="0.78"/>
<circle cx="421.3" cy="440.8" r="1.08" fill="#4a48dd" opacity="0.78"/>
<circle cx="426.6" cy="445.1" r="1.08" fill="#4a48dd" opacity="0.78"/>
<circle cx="435.2" cy="448.4" r="1.08" fill="#4a48dd" opacity="0.78"/>
<circle cx="421.3" cy="453.3" r="1.44" fill="#4a48dd" opacity="0.78"/>
<circle cx="413.7" cy="458.1" r="1.08" fill="#4a48dd" opacity="0.78"/>
<circle cx="428.8" cy="469.9" r="1.08" fill="#4a48dd" opacity="0.78"/>
<circle cx="449.2" cy="469.9" r="1.08" fill="#4a48dd" opacity="0.78"/>
<circle cx="457.8" cy="474.2" r="0.94" fill="#4a48dd" opacity="0.78"/>
<circle cx="465.4" cy="462.4" r="0.94" fill="#4a48dd" opacity="0.78"/>
<circle cx="451.4" cy="433.3" r="0.94" fill="#4a48dd" opacity="0.78"/>
<circle cx="458.9" cy="432.9" r="0.94" fill="#4a48dd" opacity="0.78"/>
<circle cx="448.1" cy="441.9" r="0.94" fill="#4a48dd" opacity="0.78"/>
<circle cx="439.5" cy="452.7" r="0.94" fill="#4a48dd" opacity="0.78"/>
<circle cx="391.1" cy="475.3" r="0.94" fill="#4a48dd" opacity="0.78"/>
<circle cx="405.1" cy="440.4" r="1.08" fill="#4a48dd" opacity="0.78"/>
<circle cx="390.1" cy="440.4" r="0.86" fill="#4a48dd" opacity="0.78"/>
<circle cx="409.4" cy="446.2" r="0.94" fill="#4a48dd" opacity="0.78"/>
<circle cx="391.1" cy="461.3" r="0.94" fill="#4a48dd" opacity="0.78"/>
<circle cx="414.8" cy="464.5" r="0.86" fill="#4a48dd" opacity="0.78"/>
<circle cx="441.7" cy="463.4" r="0.94" fill="#4a48dd" opacity="0.78"/>
<circle cx="465.4" cy="436.5" r="0.86" fill="#4a48dd" opacity="0.78"/>
<circle cx="464.3" cy="426.9" r="0.86" fill="#4a48dd" opacity="0.78"/>
<circle cx="439.5" cy="430.1" r="0.86" fill="#4a48dd" opacity="0.78"/>
<circle cx="446.1" cy="458.9" r="0.63" fill="#e0181e" opacity="0.9"/>
<circle cx="462.1" cy="381.4" r="0.46" fill="#e0181e" opacity="0.9"/>
<circle cx="437.9" cy="469.6" r="0.33" fill="#f07a3a" opacity="0.9"/>
<circle cx="402.2" cy="433.4" r="0.49" fill="#4a48dd" opacity="0.78"/>
<circle cx="399.6" cy="406.7" r="0.62" fill="#4a48dd" opacity="0.78"/>
<circle cx="394.5" cy="459.1" r="0.34" fill="#e0181e" opacity="0.9"/>
<circle cx="391.6" cy="378.6" r="0.60" fill="#e0181e" opacity="0.9"/>
<circle cx="399.5" cy="477.8" r="0.60" fill="#4a48dd" opacity="0.78"/>
<circle cx="465.6" cy="433.0" r="0.53" fill="#4a48dd" opacity="0.78"/>
<circle cx="463.8" cy="448.3" r="0.64" fill="#4a48dd" opacity="0.78"/>
<circle cx="406.9" cy="415.0" r="0.35" fill="#f07a3a" opacity="0.9"/>
<circle cx="386.2" cy="408.9" r="0.51" fill="#4a48dd" opacity="0.78"/>
<circle cx="440.5" cy="412.6" r="0.40" fill="#4a48dd" opacity="0.78"/>
<circle cx="423.0" cy="410.4" r="0.46" fill="#f07a3a" opacity="0.9"/>
<circle cx="385.4" cy="477.1" r="0.30" fill="#e0181e" opacity="0.9"/>
<circle cx="455.3" cy="380.3" r="0.57" fill="#e0181e" opacity="0.9"/>
<circle cx="431.7" cy="379.4" r="0.30" fill="#4a48dd" opacity="0.78"/>
<circle cx="465.0" cy="398.3" r="0.56" fill="#4a48dd" opacity="0.78"/>
<circle cx="463.9" cy="413.3" r="0.42" fill="#f07a3a" opacity="0.9"/>
<circle cx="449.1" cy="389.4" r="0.56" fill="#4a48dd" opacity="0.78"/>
<circle cx="456.6" cy="382.2" r="0.63" fill="#e0181e" opacity="0.9"/>
<circle cx="410.6" cy="440.2" r="0.62" fill="#4a48dd" opacity="0.78"/>
<circle cx="462.3" cy="433.6" r="0.40" fill="#4a48dd" opacity="0.78"/>
<circle cx="396.1" cy="386.4" r="0.34" fill="#4a48dd" opacity="0.78"/>
<circle cx="468.7" cy="394.8" r="0.31" fill="#e0181e" opacity="0.9"/>
<circle cx="427.7" cy="419.5" r="0.37" fill="#f07a3a" opacity="0.9"/>
<circle cx="453.6" cy="424.5" r="0.44" fill="#e0181e" opacity="0.9"/>
<circle cx="461.6" cy="381.8" r="0.47" fill="#4a48dd" opacity="0.78"/>
<circle cx="392.0" cy="452.4" r="0.63" fill="#f07a3a" opacity="0.9"/>
<circle cx="450.2" cy="389.2" r="0.44" fill="#e0181e" opacity="0.9"/>
<circle cx="455.3" cy="408.3" r="0.45" fill="#4a48dd" opacity="0.78"/>
<circle cx="455.9" cy="477.1" r="0.45" fill="#f07a3a" opacity="0.9"/>
<circle cx="445.0" cy="426.9" r="0.39" fill="#4a48dd" opacity="0.78"/>
<circle cx="393.4" cy="416.6" r="0.64" fill="#4a48dd" opacity="0.78"/>
<circle cx="436.0" cy="428.9" r="0.41" fill="#f07a3a" opacity="0.9"/>
<circle cx="404.5" cy="457.5" r="0.60" fill="#4a48dd" opacity="0.78"/>
<circle cx="450.1" cy="456.8" r="0.54" fill="#4a48dd" opacity="0.78"/>
<circle cx="447.7" cy="415.2" r="0.54" fill="#e0181e" opacity="0.9"/>
<circle cx="423.4" cy="456.3" r="0.54" fill="#4a48dd" opacity="0.78"/>
<circle cx="464.2" cy="444.2" r="0.50" fill="#4a48dd" opacity="0.78"/>
<circle cx="428.9" cy="403.8" r="0.53" fill="#4a48dd" opacity="0.78"/>
<circle cx="452.8" cy="443.9" r="0.58" fill="#4a48dd" opacity="0.78"/>
<circle cx="437.5" cy="453.1" r="0.59" fill="#4a48dd" opacity="0.78"/>
<circle cx="455.1" cy="466.4" r="0.54" fill="#4a48dd" opacity="0.78"/>
<circle cx="465.2" cy="430.8" r="0.48" fill="#f07a3a" opacity="0.9"/>
<circle cx="454.5" cy="473.2" r="0.46" fill="#4a48dd" opacity="0.78"/>
<circle cx="444.2" cy="452.3" r="0.35" fill="#e0181e" opacity="0.9"/>
<circle cx="431.9" cy="445.8" r="0.44" fill="#e0181e" opacity="0.9"/>
<circle cx="449.0" cy="442.9" r="0.55" fill="#e0181e" opacity="0.9"/>
<circle cx="394.6" cy="423.1" r="0.52" fill="#4a48dd" opacity="0.78"/>
<circle cx="441.2" cy="442.2" r="0.30" fill="#4a48dd" opacity="0.78"/>
<circle cx="400.4" cy="383.9" r="0.34" fill="#4a48dd" opacity="0.78"/>
<circle cx="396.5" cy="398.0" r="0.30" fill="#4a48dd" opacity="0.78"/>
<circle cx="414.1" cy="440.3" r="0.50" fill="#4a48dd" opacity="0.78"/>
<circle cx="460.4" cy="378.5" r="0.43" fill="#4a48dd" opacity="0.78"/>
<circle cx="416.7" cy="390.1" r="0.59" fill="#4a48dd" opacity="0.78"/>
<circle cx="383.6" cy="440.5" r="0.32" fill="#4a48dd" opacity="0.78"/>
<circle cx="410.5" cy="437.2" r="0.63" fill="#4a48dd" opacity="0.78"/>
<circle cx="417.5" cy="460.7" r="0.52" fill="#f07a3a" opacity="0.9"/>
<circle cx="393.0" cy="438.7" r="0.49" fill="#4a48dd" opacity="0.78"/>
<circle cx="466.2" cy="440.0" r="0.41" fill="#f07a3a" opacity="0.9"/>
<circle cx="380.5" cy="389.4" r="0.49" fill="#f07a3a" opacity="0.9"/>
<circle cx="392.9" cy="442.1" r="0.61" fill="#e0181e" opacity="0.9"/>
<circle cx="418.6" cy="401.3" r="0.39" fill="#4a48dd" opacity="0.78"/>
<circle cx="414.0" cy="475.6" r="0.62" fill="#f07a3a" opacity="0.9"/>
<circle cx="403.4" cy="477.6" r="0.47" fill="#e0181e" opacity="0.9"/>
<circle cx="408.7" cy="478.0" r="0.47" fill="#4a48dd" opacity="0.78"/>
<circle cx="422.7" cy="390.8" r="0.51" fill="#4a48dd" opacity="0.78"/>
<circle cx="406.4" cy="457.5" r="0.59" fill="#4a48dd" opacity="0.78"/>
<circle cx="427.6" cy="406.1" r="0.62" fill="#4a48dd" opacity="0.78"/>
<circle cx="402.2" cy="405.5" r="0.34" fill="#e0181e" opacity="0.9"/>
<circle cx="406.4" cy="439.9" r="0.46" fill="#f07a3a" opacity="0.9"/>
<circle cx="433.9" cy="453.6" r="0.33" fill="#e0181e" opacity="0.9"/>
<circle cx="407.0" cy="432.4" r="0.41" fill="#e0181e" opacity="0.9"/>
<circle cx="427.3" cy="425.4" r="0.42" fill="#4a48dd" opacity="0.78"/>
<rect x="436.3" y="478.7" width="33" height="1.6" fill="#fff" opacity="0.6"/>
<rect x="437.3" y="479.0" width="14" height="1" fill="#555" opacity="0.7"/><rect x="458.3" y="479.0" width="10" height="1" fill="#777" opacity="0.7"/>
</g>
<path d="M379.7 377.4 V480.6 H469.7" fill="none" stroke="#444" stroke-width="0.7"/>
<line x1="378.3" y1="402.6" x2="379.7" y2="402.6" stroke="#444" stroke-width="0.5"/><rect x="376.1" y="401.8" width="1.6" height="1.6" fill="#777" opacity="0.7"/>
<line x1="378.3" y1="430.1" x2="379.7" y2="430.1" stroke="#444" stroke-width="0.5"/><rect x="376.1" y="429.3" width="1.6" height="1.6" fill="#777" opacity="0.7"/>
<line x1="378.3" y1="457.0" x2="379.7" y2="457.0" stroke="#444" stroke-width="0.5"/><rect x="376.1" y="456.2" width="1.6" height="1.6" fill="#777" opacity="0.7"/>
<line x1="395.4" y1="480.6" x2="395.4" y2="482.0" stroke="#444" stroke-width="0.5"/><rect x="394.0" y="483.0" width="2.8" height="1.5" fill="#777" opacity="0.7"/>
<line x1="417.0" y1="480.6" x2="417.0" y2="482.0" stroke="#444" stroke-width="0.5"/><rect x="415.6" y="483.0" width="2.8" height="1.5" fill="#777" opacity="0.7"/>
<line x1="437.4" y1="480.6" x2="437.4" y2="482.0" stroke="#444" stroke-width="0.5"/><rect x="436.0" y="483.0" width="2.8" height="1.5" fill="#777" opacity="0.7"/>
<line x1="457.8" y1="480.6" x2="457.8" y2="482.0" stroke="#444" stroke-width="0.5"/><rect x="456.4" y="483.0" width="2.8" height="1.5" fill="#777" opacity="0.7"/>
<rect x="421.3" y="485.6" width="10" height="1.7" fill="#888" opacity="0.8"/>
<rect x="376.7" y="428.4" width="1.5" height="8" fill="#888" opacity="0.7"/>
<text x="380" y="376" font-size="3.1" fill="#444">Observation Impacts</text>
<rect x="471.4" y="378.9" width="2.1" height="8.18" fill="#1b1b1f"/>
<rect x="471.4" y="387.1" width="2.1" height="10.33" fill="#6a3d9a"/>
<rect x="471.4" y="397.4" width="2.1" height="10.11" fill="#9d7fcf"/>
<rect x="471.4" y="407.5" width="2.1" height="10.76" fill="#b9b3ea"/>
<rect x="471.4" y="418.3" width="2.1" height="10.11" fill="#e9e7f6"/>
<rect x="471.4" y="428.4" width="2.1" height="10.76" fill="#fbfbfb"/>
<rect x="471.4" y="439.1" width="2.1" height="7.10" fill="#cfe9cf"/>
<rect x="471.4" y="446.2" width="2.1" height="5.81" fill="#7fc97f"/>
<rect x="471.4" y="452.0" width="2.1" height="8.18" fill="#2f7d4a"/>
<rect x="471.4" y="460.2" width="2.1" height="8.61" fill="#243a63"/>
<rect x="471.4" y="468.8" width="2.1" height="9.90" fill="#15151a"/>
<rect x="474.8" y="378.1" width="2" height="1.5" fill="#888" opacity="0.7"/>
<rect x="474.8" y="403.5" width="2" height="1.5" fill="#888" opacity="0.7"/>
<rect x="474.8" y="428.2" width="2" height="1.5" fill="#888" opacity="0.7"/>
<rect x="474.8" y="453.0" width="2" height="1.5" fill="#888" opacity="0.7"/>
<rect x="474.8" y="477.9" width="2" height="1.5" fill="#888" opacity="0.7"/>
<circle cx="485.0" cy="378.6" r="1.4" fill="none" stroke="#e8963a" stroke-width="0.8"/><path d="M483.7 379.3 A1.4 1.4 0 0 0 486.3 379.3" stroke="#3b8ad9" stroke-width="0.8" fill="none"/><path d="M483.8 377.8 A1.4 1.4 0 0 1 485 377.2" stroke="#6aa84f" stroke-width="0.8" fill="none"/>
<rect x="483.9" y="382.4" width="2.2" height="2.2" rx="0.6" fill="#b9bdc4" opacity="0.85"/>
<rect x="483.9" y="388.4" width="2.2" height="2.2" rx="0.6" fill="#b9bdc4" opacity="0.85"/>
<rect x="483.9" y="394.9" width="2.2" height="2.2" rx="0.6" fill="#b9bdc4" opacity="0.85"/>
<rect x="483.9" y="400.9" width="2.2" height="2.2" rx="0.6" fill="#b9bdc4" opacity="0.85"/>
<rect x="483.9" y="407.4" width="2.2" height="2.2" rx="0.6" fill="#b9bdc4" opacity="0.85"/>
<rect x="483.9" y="413.4" width="2.2" height="2.2" rx="0.6" fill="#b9bdc4" opacity="0.85"/>
<rect x="483.9" y="418.9" width="2.2" height="2.2" rx="0.6" fill="#b9bdc4" opacity="0.85"/>
<line x1="482.3" y1="381" x2="482.3" y2="386" stroke="#9cc7f2" stroke-width="0.6"/>
<line x1="482.3" y1="393.5" x2="482.3" y2="398.5" stroke="#9cc7f2" stroke-width="0.6"/>
<line x1="482.3" y1="412" x2="482.3" y2="420.5" stroke="#9cc7f2" stroke-width="0.6"/>
</g>
<g id="t4">
<rect x="507" y="382" width="115" height="86" fill="#ffffff"/>
<rect x="521.9" y="387.75" width="97.1" height="72.0" fill="#fff" stroke="#c9c9c9" stroke-width="0.6"/>
<rect x="522.1999999999999" y="391" width="60.6" height="6.50" fill="#1f77b4"/>
<line x1="520.4" y1="394.2" x2="521.9" y2="394.2" stroke="#222" stroke-width="0.5"/>
<rect x="514.0" y="393.4" width="5.5" height="1.8" fill="#555" opacity="0.75"/>
<rect x="522.1999999999999" y="399.4" width="10.8" height="6.60" fill="#1f77b4"/>
<line x1="520.4" y1="402.7" x2="521.9" y2="402.7" stroke="#222" stroke-width="0.5"/>
<rect x="511.5" y="401.8" width="8" height="1.8" fill="#555" opacity="0.75"/>
<rect x="522.1999999999999" y="407.8" width="74.7" height="6.20" fill="#1f77b4"/>
<line x1="520.4" y1="410.9" x2="521.9" y2="410.9" stroke="#222" stroke-width="0.5"/>
<rect x="515.5" y="410.0" width="4" height="1.8" fill="#555" opacity="0.75"/>
<rect x="522.1999999999999" y="416.25" width="61.2" height="6.15" fill="#1f77b4"/>
<line x1="520.4" y1="419.3" x2="521.9" y2="419.3" stroke="#222" stroke-width="0.5"/>
<rect x="515.5" y="418.4" width="4" height="1.8" fill="#555" opacity="0.75"/>
<rect x="522.1999999999999" y="424.7" width="89.7" height="6.20" fill="#1f77b4"/>
<line x1="520.4" y1="427.8" x2="521.9" y2="427.8" stroke="#222" stroke-width="0.5"/>
<rect x="511.5" y="426.9" width="8" height="1.8" fill="#555" opacity="0.75"/>
<rect x="522.1999999999999" y="433" width="91.6" height="6.50" fill="#1f77b4"/>
<line x1="520.4" y1="436.2" x2="521.9" y2="436.2" stroke="#222" stroke-width="0.5"/>
<rect x="516.5" y="435.4" width="3" height="1.8" fill="#555" opacity="0.75"/>
<rect x="522.1999999999999" y="441.6" width="48.4" height="6.15" fill="#1f77b4"/>
<line x1="520.4" y1="444.7" x2="521.9" y2="444.7" stroke="#222" stroke-width="0.5"/>
<rect x="515.0" y="443.8" width="4.5" height="1.8" fill="#555" opacity="0.75"/>
<rect x="522.1999999999999" y="449.6" width="63.8" height="6.40" fill="#1f77b4"/>
<line x1="520.4" y1="452.8" x2="521.9" y2="452.8" stroke="#222" stroke-width="0.5"/>
<rect x="513.5" y="451.9" width="6" height="1.8" fill="#555" opacity="0.75"/>
<path d="M521.9 387.75 V459.75 H619" fill="none" stroke="#222" stroke-width="0.8"/>
<line x1="521.9" y1="459.75" x2="521.9" y2="461.25" stroke="#222" stroke-width="0.5"/>
<rect x="520.3" y="462.35" width="3.2" height="1.6" fill="#555" opacity="0.75"/>
<line x1="543" y1="459.75" x2="543" y2="461.25" stroke="#222" stroke-width="0.5"/>
<rect x="541.4" y="462.35" width="3.2" height="1.6" fill="#555" opacity="0.75"/>
<line x1="564.4" y1="459.75" x2="564.4" y2="461.25" stroke="#222" stroke-width="0.5"/>
<rect x="562.8" y="462.35" width="3.2" height="1.6" fill="#555" opacity="0.75"/>
<line x1="585.25" y1="459.75" x2="585.25" y2="461.25" stroke="#222" stroke-width="0.5"/>
<rect x="583.65" y="462.35" width="3.2" height="1.6" fill="#555" opacity="0.75"/>
<line x1="606.8" y1="459.75" x2="606.8" y2="461.25" stroke="#222" stroke-width="0.5"/>
<rect x="605.1999999999999" y="462.35" width="3.2" height="1.6" fill="#555" opacity="0.75"/>
</g>
<text x="153.6" y="542.0" font-family="Liberation Serif, serif" font-size="13.9" fill="#111">Figure 1: An overview of the proposed system, CloudNine.</text>
</svg>
</body></html>
